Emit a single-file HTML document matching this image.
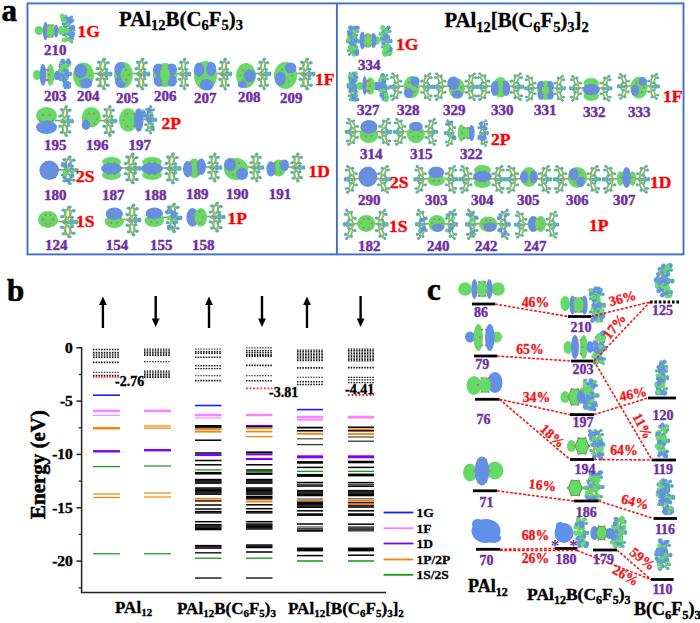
<!DOCTYPE html>
<html><head><meta charset="utf-8"><style>
html,body{margin:0;padding:0;background:#fff;overflow:hidden;}
svg{display:block;}
</style></head><body>
<svg width="700" height="623" viewBox="0 0 700 623">
<defs><g id="L"><path d="M9.3,12.2 L6.4,13.8 L5.7,10.6 L7.9,5.8 L10.8,4.2 L11.5,7.4Z M4.5,17.5 L6.4,13.8 M9.3,12.2 L10.1,13.2 M5.7,10.6 L2.8,11.1 M7.9,5.8 L7.1,4.8 M10.8,4.2 L12.9,2.7 M11.5,7.4 L14.4,6.9 M13.7,18.1 L11.8,18.8 L9.9,18.2 L9.9,16.9 L11.8,16.2 L13.7,16.8Z M4.5,17.5 L9.9,16.9 M13.7,18.1 L15.6,18.3 M11.8,18.8 L11.8,19.2 M9.9,18.2 L8,18.3 M11.8,16.2 L11.8,15.8 M13.7,16.8 L15.6,16.7 M11.5,27.6 L10.8,30.8 L7.9,29.2 L5.7,24.4 L6.4,21.2 L9.3,22.8Z M4.5,17.5 L6.4,21.2 M11.5,27.6 L14.4,28.1 M10.8,30.8 L12.9,32.3 M7.9,29.2 L7.1,30.2 M5.7,24.4 L2.8,23.9 M9.3,22.8 L10.1,21.8" fill="none" stroke="#58c858" stroke-width="2.0"/><circle cx="9.3" cy="12.2" r="1.35" fill="#c0ac6c"/><circle cx="6.4" cy="13.8" r="1.35" fill="#c0ac6c"/><circle cx="5.7" cy="10.6" r="1.35" fill="#c0ac6c"/><circle cx="7.9" cy="5.8" r="1.35" fill="#c0ac6c"/><circle cx="10.8" cy="4.2" r="1.35" fill="#c0ac6c"/><circle cx="11.5" cy="7.4" r="1.35" fill="#c0ac6c"/><circle cx="13.7" cy="18.1" r="1.35" fill="#c0ac6c"/><circle cx="11.8" cy="18.8" r="1.35" fill="#c0ac6c"/><circle cx="9.9" cy="18.2" r="1.35" fill="#c0ac6c"/><circle cx="9.9" cy="16.9" r="1.35" fill="#c0ac6c"/><circle cx="11.8" cy="16.2" r="1.35" fill="#c0ac6c"/><circle cx="13.7" cy="16.8" r="1.35" fill="#c0ac6c"/><circle cx="11.5" cy="27.6" r="1.35" fill="#c0ac6c"/><circle cx="10.8" cy="30.8" r="1.35" fill="#c0ac6c"/><circle cx="7.9" cy="29.2" r="1.35" fill="#c0ac6c"/><circle cx="5.7" cy="24.4" r="1.35" fill="#c0ac6c"/><circle cx="6.4" cy="21.2" r="1.35" fill="#c0ac6c"/><circle cx="9.3" cy="22.8" r="1.35" fill="#c0ac6c"/><circle cx="10.1" cy="13.2" r="1.75" fill="#56b0b8"/><circle cx="2.8" cy="11.1" r="1.75" fill="#56b0b8"/><circle cx="7.1" cy="4.8" r="1.75" fill="#56b0b8"/><circle cx="12.9" cy="2.7" r="1.75" fill="#56b0b8"/><circle cx="14.4" cy="6.9" r="1.75" fill="#56b0b8"/><circle cx="15.6" cy="18.3" r="1.75" fill="#56b0b8"/><circle cx="11.8" cy="19.2" r="1.75" fill="#56b0b8"/><circle cx="8" cy="18.3" r="1.75" fill="#56b0b8"/><circle cx="11.8" cy="15.8" r="1.75" fill="#56b0b8"/><circle cx="15.6" cy="16.7" r="1.75" fill="#56b0b8"/><circle cx="14.4" cy="28.1" r="1.75" fill="#56b0b8"/><circle cx="12.9" cy="32.3" r="1.75" fill="#56b0b8"/><circle cx="7.1" cy="30.2" r="1.75" fill="#56b0b8"/><circle cx="2.8" cy="23.9" r="1.75" fill="#56b0b8"/><circle cx="10.1" cy="21.8" r="1.75" fill="#56b0b8"/><circle cx="4.5" cy="17.5" r="1.3" fill="#d08a8a"/></g><g id="L2"><path d="M10.3,11.9 L8,14.3 L6.3,11.4 L6.9,6.1 L9.2,3.7 L10.9,6.6Z M4.5,17.5 L8,14.3 M10.3,11.9 L11.9,12.7 M6.3,11.4 L4,12.1 M6.9,6.1 L5.3,5.3 M9.2,3.7 L9.9,2.2 M10.9,6.6 L13.2,5.9 M13.7,18.1 L11.8,18.8 L9.9,18.2 L9.9,16.9 L11.8,16.2 L13.7,16.8Z M4.5,17.5 L9.9,16.9 M13.7,18.1 L15.6,18.3 M11.8,18.8 L11.8,19.2 M9.9,18.2 L8,18.3 M11.8,16.2 L11.8,15.8 M13.7,16.8 L15.6,16.7 M10.9,28.4 L9.2,31.3 L6.9,28.9 L6.3,23.6 L8,20.7 L10.3,23.1Z M4.5,17.5 L8,20.7 M10.9,28.4 L13.2,29.1 M9.2,31.3 L9.9,32.8 M6.9,28.9 L5.3,29.7 M6.3,23.6 L4,22.9 M10.3,23.1 L11.9,22.3" fill="none" stroke="#58c858" stroke-width="2.0"/><circle cx="10.3" cy="11.9" r="1.35" fill="#c0ac6c"/><circle cx="8" cy="14.3" r="1.35" fill="#c0ac6c"/><circle cx="6.3" cy="11.4" r="1.35" fill="#c0ac6c"/><circle cx="6.9" cy="6.1" r="1.35" fill="#c0ac6c"/><circle cx="9.2" cy="3.7" r="1.35" fill="#c0ac6c"/><circle cx="10.9" cy="6.6" r="1.35" fill="#c0ac6c"/><circle cx="13.7" cy="18.1" r="1.35" fill="#c0ac6c"/><circle cx="11.8" cy="18.8" r="1.35" fill="#c0ac6c"/><circle cx="9.9" cy="18.2" r="1.35" fill="#c0ac6c"/><circle cx="9.9" cy="16.9" r="1.35" fill="#c0ac6c"/><circle cx="11.8" cy="16.2" r="1.35" fill="#c0ac6c"/><circle cx="13.7" cy="16.8" r="1.35" fill="#c0ac6c"/><circle cx="10.9" cy="28.4" r="1.35" fill="#c0ac6c"/><circle cx="9.2" cy="31.3" r="1.35" fill="#c0ac6c"/><circle cx="6.9" cy="28.9" r="1.35" fill="#c0ac6c"/><circle cx="6.3" cy="23.6" r="1.35" fill="#c0ac6c"/><circle cx="8" cy="20.7" r="1.35" fill="#c0ac6c"/><circle cx="10.3" cy="23.1" r="1.35" fill="#c0ac6c"/><circle cx="11.9" cy="12.7" r="1.75" fill="#56b0b8"/><circle cx="4" cy="12.1" r="1.75" fill="#56b0b8"/><circle cx="5.3" cy="5.3" r="1.75" fill="#56b0b8"/><circle cx="9.9" cy="2.2" r="1.75" fill="#56b0b8"/><circle cx="13.2" cy="5.9" r="1.75" fill="#56b0b8"/><circle cx="15.6" cy="18.3" r="1.75" fill="#56b0b8"/><circle cx="11.8" cy="19.2" r="1.75" fill="#56b0b8"/><circle cx="8" cy="18.3" r="1.75" fill="#56b0b8"/><circle cx="11.8" cy="15.8" r="1.75" fill="#56b0b8"/><circle cx="15.6" cy="16.7" r="1.75" fill="#56b0b8"/><circle cx="13.2" cy="29.1" r="1.75" fill="#56b0b8"/><circle cx="9.9" cy="32.8" r="1.75" fill="#56b0b8"/><circle cx="5.3" cy="29.7" r="1.75" fill="#56b0b8"/><circle cx="4" cy="22.9" r="1.75" fill="#56b0b8"/><circle cx="11.9" cy="22.3" r="1.75" fill="#56b0b8"/><circle cx="4.5" cy="17.5" r="1.3" fill="#d08a8a"/></g></defs>
<rect width="700" height="623" fill="#fff"/>
<rect x="27.5" y="3.4" width="656" height="251" fill="none" stroke="#3f6fc6" stroke-width="1.9"/>
<line x1="336.9" y1="3.4" x2="336.9" y2="254.4" stroke="#3f6fc6" stroke-width="1.9"/>
<text x="1.5" y="20.5" font-size="31" fill="#000" text-anchor="start" font-family="Liberation Serif" font-weight="bold" stroke="#000" stroke-width="0.6" >a</text>
<text x="119" y="25.7" font-size="20.9" fill="#000" text-anchor="start" font-family="Liberation Serif" font-weight="bold" stroke="#000" stroke-width="0.3" >PAl<tspan font-size="14.5" dy="4.5">12</tspan><tspan dy="-4.5">B(C</tspan><tspan font-size="14.5" dy="4.5">6</tspan><tspan dy="-4.5">F</tspan><tspan font-size="14.5" dy="4.5">5</tspan><tspan dy="-4.5">)</tspan><tspan font-size="14.5" dy="4.5">3</tspan></text>
<text x="444.5" y="27" font-size="20.7" fill="#000" text-anchor="start" font-family="Liberation Serif" font-weight="bold" stroke="#000" stroke-width="0.3" >PAl<tspan font-size="14.5" dy="4.5">12</tspan><tspan dy="-4.5">[B(C</tspan><tspan font-size="14.5" dy="4.5">6</tspan><tspan dy="-4.5">F</tspan><tspan font-size="14.5" dy="4.5">5</tspan><tspan dy="-4.5">)</tspan><tspan font-size="14.5" dy="4.5">3</tspan><tspan dy="-4.5">]</tspan><tspan font-size="14.5" dy="4.5">2</tspan></text>
<use href="#L" transform="translate(61,14.6) scale(0.831,0.850)"/>
<g opacity="0.95"><circle cx="65.6" cy="16.5" r="1.8" fill="#6090e8"/><circle cx="66.1" cy="29.6" r="1.9" fill="#66da66"/><circle cx="68.1" cy="21" r="2.2" fill="#6090e8"/><circle cx="70.1" cy="33.2" r="2.4" fill="#66da66"/><circle cx="67.9" cy="20.9" r="2" fill="#6090e8"/><circle cx="71" cy="34.7" r="1.8" fill="#6090e8"/><circle cx="70.3" cy="20.9" r="2.1" fill="#6090e8"/><circle cx="64" cy="40" r="2.4" fill="#66da66"/><circle cx="70.2" cy="20.8" r="1.9" fill="#6090e8"/><circle cx="69.3" cy="22.4" r="2.1" fill="#6090e8"/><circle cx="70.8" cy="32.1" r="2.2" fill="#66da66"/><circle cx="65.4" cy="25.4" r="2.5" fill="#6090e8"/><circle cx="72" cy="29.5" r="1.9" fill="#66da66"/><circle cx="67" cy="30.8" r="2.4" fill="#6090e8"/><circle cx="67.5" cy="24.5" r="2.1" fill="#66da66"/><circle cx="64.4" cy="16.9" r="1.7" fill="#66da66"/><circle cx="65.6" cy="30.3" r="2.5" fill="#66da66"/><circle cx="67.1" cy="18.6" r="2.2" fill="#6090e8"/><circle cx="66" cy="30" r="2" fill="#66da66"/><circle cx="71.3" cy="39" r="2.4" fill="#66da66"/><circle cx="62.7" cy="17.7" r="2.3" fill="#66da66"/><circle cx="62.2" cy="15.9" r="2.5" fill="#66da66"/><circle cx="67.2" cy="38.4" r="2" fill="#66da66"/><circle cx="62.8" cy="19.6" r="2.3" fill="#66da66"/><circle cx="71.2" cy="21.4" r="2" fill="#6090e8"/><circle cx="69.8" cy="20.8" r="2.5" fill="#6090e8"/><circle cx="68.9" cy="34.4" r="1.8" fill="#6090e8"/><circle cx="64.8" cy="19.2" r="2.1" fill="#6090e8"/><circle cx="69.8" cy="39.1" r="2.3" fill="#66da66"/><circle cx="71.2" cy="37" r="2.2" fill="#6090e8"/><circle cx="70.4" cy="18.2" r="2" fill="#6090e8"/><circle cx="63.9" cy="23.9" r="1.8" fill="#6090e8"/><circle cx="70.4" cy="29.5" r="2.4" fill="#6090e8"/><circle cx="65.6" cy="32.7" r="2.2" fill="#6090e8"/><circle cx="66.1" cy="21.7" r="1.7" fill="#6090e8"/><circle cx="66.3" cy="31.3" r="2.2" fill="#66da66"/><circle cx="72.9" cy="26.9" r="2.2" fill="#6090e8"/><circle cx="64.3" cy="20.8" r="1.9" fill="#66da66"/><circle cx="72.6" cy="33.9" r="2.5" fill="#6090e8"/><circle cx="68" cy="30.2" r="1.8" fill="#66da66"/><circle cx="72.3" cy="35.4" r="2.4" fill="#6090e8"/><circle cx="64.5" cy="20.9" r="2.3" fill="#66da66"/></g>
<ellipse cx="39" cy="30.5" rx="4.3" ry="4.5" fill="#66da66"/>
<ellipse cx="61" cy="30.5" rx="3" ry="4.5" fill="#66da66"/>
<ellipse cx="45.5" cy="31" rx="2.6" ry="9.3" fill="#6090e8"/>
<ellipse cx="56" cy="31" rx="2.4" ry="6.5" fill="#6090e8"/>
<ellipse cx="50.5" cy="31" rx="4" ry="7" fill="#66da66"/>
<path d="M55,31h0 M52.8,36.6h0 M48.2,36.6h0 M46,31h0 M48.2,25.4h0 M52.8,25.4h0" stroke="#c07a6a" stroke-width="2.3" stroke-linecap="round"/>
<text x="77.5" y="37" font-size="17.5" fill="#ff0000" text-anchor="start" font-family="Liberation Serif" font-weight="bold" stroke="#ff0000" stroke-width="0.4" >1G</text>
<text x="44" y="55.3" font-size="15" fill="#6f2f9f" text-anchor="start" font-family="Liberation Serif" font-weight="bold" stroke="#6f2f9f" stroke-width="0.45" >210</text>
<use href="#L" transform="translate(58,57.6) scale(0.812,0.924)"/>
<g opacity="0.95"><circle cx="65.9" cy="86.9" r="2.4" fill="#6090e8"/><circle cx="63.3" cy="77.6" r="1.7" fill="#66da66"/><circle cx="62.4" cy="75.3" r="2.2" fill="#6090e8"/><circle cx="64" cy="77.5" r="1.8" fill="#66da66"/><circle cx="64" cy="66.3" r="2.2" fill="#66da66"/><circle cx="65" cy="65.3" r="2.3" fill="#66da66"/><circle cx="63.3" cy="74.7" r="2.1" fill="#66da66"/><circle cx="66.6" cy="72.3" r="2" fill="#6090e8"/><circle cx="63.2" cy="79.7" r="1.9" fill="#6090e8"/><circle cx="60" cy="70.4" r="1.9" fill="#6090e8"/><circle cx="66.1" cy="78.2" r="2.4" fill="#6090e8"/><circle cx="67.6" cy="82.9" r="2" fill="#6090e8"/><circle cx="67.9" cy="62.3" r="1.9" fill="#6090e8"/><circle cx="63.1" cy="64.8" r="2.4" fill="#66da66"/><circle cx="66.4" cy="70.4" r="2.4" fill="#6090e8"/><circle cx="60.7" cy="76.5" r="2.4" fill="#66da66"/><circle cx="68.2" cy="65.2" r="2.2" fill="#66da66"/><circle cx="68.2" cy="62.5" r="2" fill="#6090e8"/><circle cx="68.6" cy="83.3" r="1.9" fill="#6090e8"/><circle cx="61.4" cy="63.5" r="2.4" fill="#66da66"/><circle cx="61.9" cy="69.7" r="2.5" fill="#6090e8"/><circle cx="59.7" cy="77.1" r="2.1" fill="#6090e8"/><circle cx="60.5" cy="76.5" r="2.1" fill="#66da66"/><circle cx="66.1" cy="69.5" r="1.7" fill="#6090e8"/><circle cx="66.9" cy="77" r="2.2" fill="#66da66"/><circle cx="60.8" cy="67" r="2.1" fill="#66da66"/><circle cx="60.7" cy="66" r="2.2" fill="#6090e8"/><circle cx="64.4" cy="75.9" r="2.3" fill="#6090e8"/><circle cx="68.8" cy="86.2" r="1.7" fill="#6090e8"/><circle cx="67.6" cy="84.2" r="2.2" fill="#6090e8"/><circle cx="63" cy="61.8" r="2.3" fill="#6090e8"/><circle cx="62.1" cy="75.7" r="1.9" fill="#6090e8"/><circle cx="69.4" cy="62.1" r="1.9" fill="#6090e8"/><circle cx="64.8" cy="81.6" r="2" fill="#6090e8"/><circle cx="62.6" cy="61.1" r="2.3" fill="#6090e8"/><circle cx="68.7" cy="86.5" r="2.3" fill="#6090e8"/><circle cx="65.2" cy="83.2" r="2" fill="#6090e8"/><circle cx="66" cy="70.5" r="2.4" fill="#6090e8"/><circle cx="67" cy="75.2" r="2.4" fill="#6090e8"/><circle cx="66.9" cy="68.1" r="1.7" fill="#66da66"/><circle cx="68.7" cy="84.9" r="1.8" fill="#6090e8"/><circle cx="62" cy="66.9" r="1.9" fill="#66da66"/><circle cx="63" cy="60.9" r="1.8" fill="#6090e8"/><circle cx="68.2" cy="60.1" r="1.8" fill="#6090e8"/><circle cx="60.7" cy="70.1" r="2.4" fill="#66da66"/></g>
<ellipse cx="37" cy="75" rx="4" ry="5" fill="#66da66"/>
<ellipse cx="57.5" cy="75.5" rx="3.6" ry="4.5" fill="#6090e8"/>
<ellipse cx="43" cy="75" rx="3.3" ry="11" fill="#6090e8"/>
<ellipse cx="50.5" cy="75" rx="3.8" ry="11" fill="#66da66"/>
<path d="M49,75h0 M48,80.2h0 M46,80.2h0 M45,75h0 M46,69.8h0 M48,69.8h0" stroke="#c07a6a" stroke-width="2.3" stroke-linecap="round"/>
<line x1="92" y1="73.5" x2="100" y2="73.5" stroke="#50c850" stroke-width="1.6"/>
<use href="#L2" transform="translate(93,57) scale(1.125,0.971)"/>
<ellipse cx="83.5" cy="75.5" rx="10.5" ry="13" fill="#66da66"/>
<ellipse cx="80.6" cy="71.1" rx="6.3" ry="7.3" fill="#6090e8"/>
<ellipse cx="86.2" cy="83.3" rx="5.9" ry="5.2" fill="#6090e8"/>
<path d="M89.8,75.5h0 M86.7,81h0 M80.3,81h0 M77.2,75.5h0 M80.3,70h0 M86.6,70h0" stroke="#c07a6a" stroke-width="2.2" stroke-linecap="round"/>
<line x1="131" y1="73.5" x2="138.6" y2="73.5" stroke="#50c850" stroke-width="1.6"/>
<use href="#L2" transform="translate(132,57) scale(1.062,0.971)"/>
<ellipse cx="123.5" cy="75" rx="9.5" ry="13" fill="#66da66"/>
<ellipse cx="120.1" cy="69.3" rx="5.7" ry="7.3" fill="#6090e8"/>
<ellipse cx="120.7" cy="81.5" rx="5.7" ry="6.5" fill="#6090e8"/>
<ellipse cx="125.4" cy="75" rx="4.8" ry="7.8" fill="#66da66"/>
<path d="M129.2,75h0 M126.3,79.9h0 M120.7,79.9h0 M117.8,75h0 M120.6,70.1h0 M126.3,70.1h0" stroke="#c07a6a" stroke-width="2.2" stroke-linecap="round"/>
<line x1="175" y1="73.5" x2="181.6" y2="73.5" stroke="#50c850" stroke-width="1.6"/>
<use href="#L2" transform="translate(176,57) scale(0.875,0.971)"/>
<ellipse cx="165" cy="75" rx="12" ry="12" fill="#66da66"/>
<ellipse cx="158.3" cy="69.7" rx="5.3" ry="6.2" fill="#6090e8"/>
<ellipse cx="171.7" cy="69.7" rx="5.3" ry="6.2" fill="#6090e8"/>
<ellipse cx="159" cy="81" rx="5.3" ry="5.8" fill="#6090e8"/>
<ellipse cx="171.7" cy="81" rx="5.3" ry="5.8" fill="#6090e8"/>
<ellipse cx="165" cy="75" rx="4.8" ry="10.8" fill="#66da66"/>
<path d="M172.2,75h0 M168.6,81.2h0 M161.4,81.2h0 M157.8,75h0 M161.4,68.8h0 M168.6,68.8h0" stroke="#c07a6a" stroke-width="2.2" stroke-linecap="round"/>
<line x1="215" y1="73.5" x2="221.9" y2="73.5" stroke="#50c850" stroke-width="1.6"/>
<use href="#L2" transform="translate(216,57) scale(0.938,0.971)"/>
<ellipse cx="205.5" cy="75.5" rx="11.5" ry="14.5" fill="#66da66"/>
<ellipse cx="199.1" cy="69.7" rx="5.1" ry="7.2" fill="#6090e8"/>
<ellipse cx="211.2" cy="69.1" rx="5.1" ry="7.2" fill="#6090e8"/>
<ellipse cx="206.7" cy="84.8" rx="6.9" ry="5.8" fill="#6090e8"/>
<path d="M212.4,75.5h0 M208.9,81.5h0 M202.1,81.5h0 M198.6,75.5h0 M202.1,69.5h0 M208.9,69.5h0" stroke="#c07a6a" stroke-width="2.2" stroke-linecap="round"/>
<line x1="254" y1="73.5" x2="260.9" y2="73.5" stroke="#50c850" stroke-width="1.6"/>
<use href="#L2" transform="translate(255,57) scale(0.938,0.971)"/>
<ellipse cx="246" cy="75.5" rx="10" ry="12.5" fill="#66da66"/>
<ellipse cx="249.6" cy="76" rx="6" ry="6.5" fill="#6090e8"/>
<ellipse cx="242.4" cy="84.5" rx="4.4" ry="3.5" fill="#6090e8"/>
<path d="M252,75.5h0 M249,80.7h0 M243,80.7h0 M240,75.5h0 M243,70.3h0 M249,70.3h0" stroke="#c07a6a" stroke-width="2.2" stroke-linecap="round"/>
<line x1="295" y1="73.5" x2="302.9" y2="73.5" stroke="#50c850" stroke-width="1.6"/>
<use href="#L2" transform="translate(296,57) scale(1.125,0.971)"/>
<ellipse cx="285.5" cy="75.5" rx="11.5" ry="13.5" fill="#66da66"/>
<ellipse cx="290.6" cy="67.9" rx="5.8" ry="5.4" fill="#6090e8"/>
<ellipse cx="280.4" cy="78.7" rx="5.5" ry="7" fill="#6090e8"/>
<path d="M292.4,75.5h0 M288.9,81.5h0 M282.1,81.5h0 M278.6,75.5h0 M282.1,69.5h0 M288.9,69.5h0" stroke="#c07a6a" stroke-width="2.2" stroke-linecap="round"/>
<text x="315" y="84.5" font-size="17.5" fill="#ff0000" text-anchor="start" font-family="Liberation Serif" font-weight="bold" stroke="#ff0000" stroke-width="0.4" >1F</text>
<text x="44" y="100.7" font-size="15" fill="#6f2f9f" text-anchor="start" font-family="Liberation Serif" font-weight="bold" stroke="#6f2f9f" stroke-width="0.45" >203</text>
<text x="77" y="100.7" font-size="15" fill="#6f2f9f" text-anchor="start" font-family="Liberation Serif" font-weight="bold" stroke="#6f2f9f" stroke-width="0.45" >204</text>
<text x="116" y="103" font-size="15" fill="#6f2f9f" text-anchor="start" font-family="Liberation Serif" font-weight="bold" stroke="#6f2f9f" stroke-width="0.45" >205</text>
<text x="154" y="101" font-size="15" fill="#6f2f9f" text-anchor="start" font-family="Liberation Serif" font-weight="bold" stroke="#6f2f9f" stroke-width="0.45" >206</text>
<text x="194" y="103" font-size="15" fill="#6f2f9f" text-anchor="start" font-family="Liberation Serif" font-weight="bold" stroke="#6f2f9f" stroke-width="0.45" >207</text>
<text x="238" y="102" font-size="15" fill="#6f2f9f" text-anchor="start" font-family="Liberation Serif" font-weight="bold" stroke="#6f2f9f" stroke-width="0.45" >208</text>
<text x="280" y="103" font-size="15" fill="#6f2f9f" text-anchor="start" font-family="Liberation Serif" font-weight="bold" stroke="#6f2f9f" stroke-width="0.45" >209</text>
<line x1="55" y1="120.6" x2="62.5" y2="120.6" stroke="#50c850" stroke-width="1.6"/>
<use href="#L2" transform="translate(56,104.6) scale(1.037,0.941)"/>
<ellipse cx="46.5" cy="115.6" rx="10.5" ry="8.6" fill="#66da66"/>
<ellipse cx="46.5" cy="127.2" rx="10.5" ry="6.8" fill="#6090e8"/>
<path d="M52.8,120.5h0 M49.6,126h0 M43.4,126h0 M40.2,120.5h0 M43.3,115h0 M49.6,115h0" stroke="#c07a6a" stroke-width="2.2" stroke-linecap="round"/>
<line x1="99" y1="120.6" x2="106.2" y2="120.6" stroke="#50c850" stroke-width="1.6"/>
<use href="#L2" transform="translate(100,104.6) scale(1.000,0.941)"/>
<ellipse cx="91.3" cy="117.3" rx="9.6" ry="10.3" fill="#66da66"/>
<ellipse cx="85.9" cy="124.9" rx="4.2" ry="5.1" fill="#6090e8"/>
<path d="M97.1,118.5h0 M94.2,123.5h0 M88.5,123.5h0 M85.6,118.5h0 M88.5,113.5h0 M94.2,113.5h0" stroke="#c07a6a" stroke-width="2.2" stroke-linecap="round"/>
<line x1="141" y1="119.3" x2="147.6" y2="119.3" stroke="#50c850" stroke-width="1.6"/>
<use href="#L2" transform="translate(142,104.6) scale(0.875,0.865)"/>
<g opacity="0.95"><circle cx="151.1" cy="114.7" r="1.6" fill="#6090e8"/><circle cx="151.5" cy="113" r="1.7" fill="#66da66"/><circle cx="148.7" cy="109.2" r="1.7" fill="#6090e8"/><circle cx="146.8" cy="115.7" r="2" fill="#6090e8"/><circle cx="142.9" cy="111.4" r="2.1" fill="#66da66"/><circle cx="143.9" cy="112.7" r="2" fill="#6090e8"/><circle cx="149.7" cy="110" r="2" fill="#6090e8"/><circle cx="148.6" cy="112" r="2" fill="#6090e8"/><circle cx="144" cy="115.9" r="2.1" fill="#6090e8"/><circle cx="149.8" cy="121.5" r="1.9" fill="#6090e8"/><circle cx="149.2" cy="120" r="1.8" fill="#6090e8"/><circle cx="147.9" cy="118.3" r="1.8" fill="#6090e8"/><circle cx="147.8" cy="118.1" r="1.9" fill="#6090e8"/><circle cx="151.3" cy="117.7" r="1.8" fill="#6090e8"/><circle cx="149.4" cy="127.6" r="1.7" fill="#66da66"/><circle cx="152.1" cy="126" r="1.8" fill="#66da66"/><circle cx="152.7" cy="127.4" r="2" fill="#6090e8"/></g>
<ellipse cx="128.1" cy="120" rx="9.1" ry="11.8" fill="#66da66"/>
<ellipse cx="138.7" cy="120" rx="4.8" ry="11.8" fill="#6090e8"/>
<path d="M138.2,120h0 M134.6,126.2h0 M127.4,126.2h0 M123.8,120h0 M127.4,113.8h0 M134.6,113.8h0" stroke="#c07a6a" stroke-width="2.2" stroke-linecap="round"/>
<text x="161.5" y="128.6" font-size="17.5" fill="#ff0000" text-anchor="start" font-family="Liberation Serif" font-weight="bold" stroke="#ff0000" stroke-width="0.4" >2P</text>
<text x="44" y="150" font-size="15" fill="#6f2f9f" text-anchor="start" font-family="Liberation Serif" font-weight="bold" stroke="#6f2f9f" stroke-width="0.45" >195</text>
<text x="86" y="150" font-size="15" fill="#6f2f9f" text-anchor="start" font-family="Liberation Serif" font-weight="bold" stroke="#6f2f9f" stroke-width="0.45" >196</text>
<text x="128.6" y="150" font-size="15" fill="#6f2f9f" text-anchor="start" font-family="Liberation Serif" font-weight="bold" stroke="#6f2f9f" stroke-width="0.45" >197</text>
<line x1="57" y1="169.8" x2="65.3" y2="169.8" stroke="#50c850" stroke-width="1.6"/>
<use href="#L2" transform="translate(58,155) scale(1.188,0.871)"/>
<g opacity="0.95"><circle cx="63.8" cy="164.1" r="1.8" fill="#6090e8"/><circle cx="64.9" cy="165.7" r="2.3" fill="#6090e8"/><circle cx="62.6" cy="163.6" r="1.7" fill="#6090e8"/><circle cx="65.3" cy="165.7" r="2" fill="#6090e8"/><circle cx="69.6" cy="164.4" r="1.9" fill="#6090e8"/><circle cx="71" cy="170" r="1.6" fill="#66da66"/><circle cx="64.8" cy="173" r="2.3" fill="#66da66"/><circle cx="65.4" cy="173.4" r="1.7" fill="#66da66"/><circle cx="71.3" cy="168.9" r="1.9" fill="#6090e8"/><circle cx="65.5" cy="173.2" r="1.6" fill="#66da66"/><circle cx="71.8" cy="171.2" r="1.8" fill="#66da66"/><circle cx="67.6" cy="180.1" r="1.7" fill="#6090e8"/><circle cx="72.4" cy="176" r="2" fill="#6090e8"/><circle cx="64.9" cy="175.1" r="1.8" fill="#66da66"/><circle cx="68.8" cy="179.9" r="2" fill="#6090e8"/><circle cx="64.1" cy="177.6" r="1.8" fill="#6090e8"/></g>
<ellipse cx="49.2" cy="170.3" rx="9.8" ry="9.7" fill="#6090e8"/>
<path d="M55,170.3h0 M52.1,175.3h0 M46.3,175.3h0 M43.4,170.3h0 M46.3,165.3h0 M52.1,165.3h0" stroke="#c07a6a" stroke-width="2.2" stroke-linecap="round"/>
<text x="76" y="182.2" font-size="17.5" fill="#ff0000" text-anchor="start" font-family="Liberation Serif" font-weight="bold" stroke="#ff0000" stroke-width="0.4" >2S</text>
<line x1="120" y1="168" x2="128.3" y2="168" stroke="#50c850" stroke-width="1.6"/>
<use href="#L2" transform="translate(121,152) scale(1.188,0.941)"/>
<ellipse cx="111.5" cy="162.1" rx="9.5" ry="5.1" fill="#66da66"/>
<ellipse cx="111.5" cy="174.9" rx="9.5" ry="5.1" fill="#66da66"/>
<ellipse cx="111.5" cy="168.5" rx="10.5" ry="5.5" fill="#6090e8"/>
<path d="M117.8,168.5h0 M114.7,174h0 M108.3,174h0 M105.2,168.5h0 M108.3,163h0 M114.6,163h0" stroke="#c07a6a" stroke-width="2.2" stroke-linecap="round"/>
<line x1="161" y1="168" x2="168.9" y2="168" stroke="#50c850" stroke-width="1.6"/>
<use href="#L2" transform="translate(162,152) scale(1.125,0.941)"/>
<ellipse cx="152" cy="162.1" rx="9.9" ry="5.1" fill="#66da66"/>
<ellipse cx="152" cy="174.9" rx="9.9" ry="5.1" fill="#66da66"/>
<ellipse cx="152" cy="168.5" rx="11" ry="5.5" fill="#6090e8"/>
<path d="M158.6,168.5h0 M155.3,174.2h0 M148.7,174.2h0 M145.4,168.5h0 M148.7,162.8h0 M155.3,162.8h0" stroke="#c07a6a" stroke-width="2.2" stroke-linecap="round"/>
<line x1="204" y1="167" x2="211.2" y2="167" stroke="#50c850" stroke-width="1.6"/>
<use href="#L2" transform="translate(205,152) scale(1.000,0.882)"/>
<ellipse cx="194.5" cy="168.3" rx="7.4" ry="9.9" fill="#66da66"/>
<ellipse cx="187.6" cy="169.3" rx="4.6" ry="8.2" fill="#6090e8"/>
<ellipse cx="201.4" cy="166.7" rx="4.6" ry="8.2" fill="#6090e8"/>
<path d="M200.7,168.3h0 M197.6,173.7h0 M191.4,173.7h0 M188.3,168.3h0 M191.4,162.9h0 M197.6,162.9h0" stroke="#c07a6a" stroke-width="2.2" stroke-linecap="round"/>
<line x1="246" y1="167" x2="253.2" y2="167" stroke="#50c850" stroke-width="1.6"/>
<use href="#L2" transform="translate(247,152) scale(1.000,0.882)"/>
<ellipse cx="236" cy="169" rx="12" ry="11" fill="#66da66"/>
<ellipse cx="230" cy="164.6" rx="6" ry="6.6" fill="#6090e8"/>
<ellipse cx="242" cy="173.8" rx="6" ry="6.2" fill="#6090e8"/>
<path d="M242.6,169h0 M239.3,174.7h0 M232.7,174.7h0 M229.4,169h0 M232.7,163.3h0 M239.3,163.3h0" stroke="#c07a6a" stroke-width="2.2" stroke-linecap="round"/>
<line x1="287" y1="167" x2="294.2" y2="167" stroke="#50c850" stroke-width="1.6"/>
<use href="#L2" transform="translate(288,152) scale(1.000,0.882)"/>
<ellipse cx="278.8" cy="168" rx="7.2" ry="8.6" fill="#66da66"/>
<ellipse cx="270.9" cy="168.9" rx="4.5" ry="7.6" fill="#6090e8"/>
<ellipse cx="284.5" cy="165.3" rx="4.5" ry="5.8" fill="#6090e8"/>
<path d="M283.1,168h0 M280.4,172.7h0 M275,172.7h0 M272.3,168h0 M275,163.3h0 M280.4,163.3h0" stroke="#c07a6a" stroke-width="2.2" stroke-linecap="round"/>
<text x="308.5" y="177" font-size="17.5" fill="#ff0000" text-anchor="start" font-family="Liberation Serif" font-weight="bold" stroke="#ff0000" stroke-width="0.4" >1D</text>
<text x="44" y="200.3" font-size="15" fill="#6f2f9f" text-anchor="start" font-family="Liberation Serif" font-weight="bold" stroke="#6f2f9f" stroke-width="0.45" >180</text>
<text x="102" y="200.3" font-size="15" fill="#6f2f9f" text-anchor="start" font-family="Liberation Serif" font-weight="bold" stroke="#6f2f9f" stroke-width="0.45" >187</text>
<text x="144" y="200.3" font-size="15" fill="#6f2f9f" text-anchor="start" font-family="Liberation Serif" font-weight="bold" stroke="#6f2f9f" stroke-width="0.45" >188</text>
<text x="186" y="199" font-size="15" fill="#6f2f9f" text-anchor="start" font-family="Liberation Serif" font-weight="bold" stroke="#6f2f9f" stroke-width="0.45" >189</text>
<text x="226" y="199" font-size="15" fill="#6f2f9f" text-anchor="start" font-family="Liberation Serif" font-weight="bold" stroke="#6f2f9f" stroke-width="0.45" >190</text>
<text x="268.7" y="199" font-size="15" fill="#6f2f9f" text-anchor="start" font-family="Liberation Serif" font-weight="bold" stroke="#6f2f9f" stroke-width="0.45" >191</text>
<line x1="56" y1="221.5" x2="64.7" y2="221.5" stroke="#50c850" stroke-width="1.6"/>
<use href="#L2" transform="translate(57,205) scale(1.250,0.971)"/>
<ellipse cx="48" cy="219.5" rx="10" ry="8.5" fill="#66da66"/>
<path d="M53.1,219.5h0 M50.5,223.9h0 M45.5,223.9h0 M42.9,219.5h0 M45.4,215.1h0 M50.5,215.1h0" stroke="#c07a6a" stroke-width="2.2" stroke-linecap="round"/>
<text x="76" y="227.2" font-size="17.5" fill="#ff0000" text-anchor="start" font-family="Liberation Serif" font-weight="bold" stroke="#ff0000" stroke-width="0.4" >1S</text>
<line x1="122" y1="219.5" x2="129.6" y2="219.5" stroke="#50c850" stroke-width="1.6"/>
<use href="#L2" transform="translate(123,203) scale(1.062,0.971)"/>
<ellipse cx="114.3" cy="221.5" rx="9.7" ry="6.5" fill="#66da66"/>
<ellipse cx="114.3" cy="213.7" rx="8.7" ry="6.1" fill="#6090e8"/>
<path d="M120.1,217.8h0 M117.2,222.8h0 M111.4,222.8h0 M108.5,217.8h0 M111.4,212.8h0 M117.2,212.8h0" stroke="#c07a6a" stroke-width="2.2" stroke-linecap="round"/>
<line x1="162" y1="217.3" x2="169.9" y2="217.3" stroke="#50c850" stroke-width="1.6"/>
<use href="#L2" transform="translate(163,202) scale(1.125,0.903)"/>
<g opacity="0.95"><circle cx="170" cy="210.2" r="1.6" fill="#66da66"/><circle cx="168.8" cy="209.7" r="1.8" fill="#6090e8"/><circle cx="171.2" cy="211.6" r="2.2" fill="#6090e8"/><circle cx="174.1" cy="213.1" r="2" fill="#6090e8"/><circle cx="173.3" cy="212.9" r="2" fill="#6090e8"/><circle cx="166.4" cy="211.7" r="1.7" fill="#6090e8"/><circle cx="175.5" cy="220" r="2.2" fill="#66da66"/><circle cx="169" cy="217.9" r="2.3" fill="#66da66"/><circle cx="174" cy="222.9" r="1.8" fill="#6090e8"/><circle cx="176.2" cy="218" r="2.2" fill="#66da66"/><circle cx="174" cy="215.8" r="2.2" fill="#6090e8"/><circle cx="178" cy="218.6" r="2" fill="#6090e8"/><circle cx="173.1" cy="215.8" r="2.2" fill="#6090e8"/><circle cx="168.7" cy="226.7" r="2" fill="#6090e8"/><circle cx="169.2" cy="227.8" r="1.8" fill="#6090e8"/><circle cx="171.3" cy="228.6" r="2.2" fill="#66da66"/><circle cx="172.1" cy="227.2" r="1.8" fill="#6090e8"/></g>
<ellipse cx="154.3" cy="220.8" rx="9.7" ry="6.2" fill="#66da66"/>
<ellipse cx="154.3" cy="213.4" rx="8.7" ry="5.8" fill="#6090e8"/>
<path d="M160.1,217.3h0 M157.2,222.3h0 M151.4,222.3h0 M148.5,217.3h0 M151.4,212.3h0 M157.2,212.3h0" stroke="#c07a6a" stroke-width="2.2" stroke-linecap="round"/>
<line x1="205" y1="216.5" x2="212.9" y2="216.5" stroke="#50c850" stroke-width="1.6"/>
<use href="#L2" transform="translate(206,201) scale(1.125,0.912)"/>
<ellipse cx="192.6" cy="217.3" rx="6.2" ry="9.3" fill="#6090e8"/>
<ellipse cx="200.8" cy="217.3" rx="6.2" ry="9.3" fill="#66da66"/>
<path d="M202.9,217.3h0 M199.8,222.7h0 M193.6,222.7h0 M190.5,217.3h0 M193.6,212h0 M199.8,212h0" stroke="#c07a6a" stroke-width="2.2" stroke-linecap="round"/>
<text x="227.6" y="224.3" font-size="17.5" fill="#ff0000" text-anchor="start" font-family="Liberation Serif" font-weight="bold" stroke="#ff0000" stroke-width="0.4" >1P</text>
<text x="45" y="250.3" font-size="15" fill="#6f2f9f" text-anchor="start" font-family="Liberation Serif" font-weight="bold" stroke="#6f2f9f" stroke-width="0.45" >124</text>
<text x="105.7" y="250.3" font-size="15" fill="#6f2f9f" text-anchor="start" font-family="Liberation Serif" font-weight="bold" stroke="#6f2f9f" stroke-width="0.45" >154</text>
<text x="150" y="250.3" font-size="15" fill="#6f2f9f" text-anchor="start" font-family="Liberation Serif" font-weight="bold" stroke="#6f2f9f" stroke-width="0.45" >155</text>
<text x="192" y="250.3" font-size="15" fill="#6f2f9f" text-anchor="start" font-family="Liberation Serif" font-weight="bold" stroke="#6f2f9f" stroke-width="0.45" >158</text>
<use href="#L" transform="translate(359,25) scale(-0.750,0.912)"/>
<use href="#L" transform="translate(347,25) scale(0.750,0.912)"/>
<g opacity="0.95"><circle cx="353.3" cy="42.9" r="1.9" fill="#66da66"/><circle cx="356.3" cy="48.8" r="2.3" fill="#66da66"/><circle cx="350.7" cy="40.8" r="2.3" fill="#6090e8"/><circle cx="351.1" cy="49.7" r="2.2" fill="#66da66"/><circle cx="357" cy="53.6" r="2.2" fill="#6090e8"/><circle cx="350.8" cy="27" r="2" fill="#66da66"/><circle cx="351.8" cy="34.1" r="1.8" fill="#66da66"/><circle cx="355.8" cy="52.1" r="2.3" fill="#6090e8"/><circle cx="355.6" cy="52.8" r="1.9" fill="#6090e8"/><circle cx="355.4" cy="38.3" r="2.1" fill="#6090e8"/><circle cx="352.3" cy="39.7" r="2.2" fill="#66da66"/><circle cx="350.4" cy="47.8" r="2" fill="#66da66"/><circle cx="349.7" cy="41.8" r="1.9" fill="#6090e8"/><circle cx="351.1" cy="43.5" r="2.1" fill="#6090e8"/><circle cx="352.9" cy="48" r="2.1" fill="#66da66"/><circle cx="349.2" cy="37.4" r="2.4" fill="#66da66"/><circle cx="354.6" cy="27.7" r="2.2" fill="#6090e8"/><circle cx="352.6" cy="35.4" r="1.9" fill="#6090e8"/><circle cx="350.8" cy="47" r="2.3" fill="#66da66"/><circle cx="348.8" cy="41.1" r="2" fill="#6090e8"/><circle cx="354" cy="54.4" r="2.3" fill="#66da66"/><circle cx="354.7" cy="36" r="1.8" fill="#6090e8"/><circle cx="356.2" cy="52" r="2.5" fill="#6090e8"/><circle cx="352.7" cy="34.8" r="1.9" fill="#6090e8"/><circle cx="353.9" cy="37.4" r="1.8" fill="#66da66"/><circle cx="357.6" cy="27.7" r="2.3" fill="#6090e8"/><circle cx="352.7" cy="34.1" r="2.3" fill="#66da66"/><circle cx="352.5" cy="30.5" r="2.3" fill="#66da66"/><circle cx="348.2" cy="39.9" r="1.9" fill="#66da66"/><circle cx="350.9" cy="28.5" r="2.3" fill="#6090e8"/><circle cx="350.2" cy="48.6" r="2.5" fill="#66da66"/><circle cx="350.8" cy="41.8" r="1.7" fill="#6090e8"/><circle cx="354.9" cy="45.9" r="1.8" fill="#6090e8"/><circle cx="348.9" cy="39.4" r="2.2" fill="#66da66"/><circle cx="355.4" cy="40.6" r="2" fill="#6090e8"/><circle cx="351.3" cy="33.2" r="2" fill="#6090e8"/><circle cx="351.9" cy="43.3" r="2.4" fill="#6090e8"/><circle cx="349.4" cy="33.7" r="2.4" fill="#6090e8"/><circle cx="353.9" cy="48.2" r="2.2" fill="#66da66"/><circle cx="351.6" cy="49.2" r="2.2" fill="#66da66"/><circle cx="351.7" cy="38" r="2" fill="#6090e8"/></g>
<use href="#L" transform="translate(380,25) scale(0.719,0.912)"/>
<g opacity="0.95"><circle cx="385.6" cy="54.4" r="2.4" fill="#6090e8"/><circle cx="380.9" cy="33.9" r="2.5" fill="#66da66"/><circle cx="382.5" cy="27.2" r="2.3" fill="#66da66"/><circle cx="388.4" cy="27.6" r="2" fill="#6090e8"/><circle cx="382.5" cy="40.9" r="2.1" fill="#66da66"/><circle cx="390.5" cy="51.9" r="2.1" fill="#66da66"/><circle cx="389.5" cy="50.9" r="2.4" fill="#66da66"/><circle cx="385.3" cy="46.6" r="2.1" fill="#66da66"/><circle cx="383" cy="29" r="2.4" fill="#66da66"/><circle cx="383.8" cy="32.4" r="2.3" fill="#6090e8"/><circle cx="389.1" cy="46" r="1.8" fill="#6090e8"/><circle cx="387.1" cy="46.6" r="1.7" fill="#6090e8"/><circle cx="384.6" cy="54.6" r="1.9" fill="#66da66"/><circle cx="383.6" cy="34.7" r="1.7" fill="#66da66"/><circle cx="383.5" cy="28.4" r="2.1" fill="#66da66"/><circle cx="389.9" cy="50.6" r="2.3" fill="#6090e8"/><circle cx="385.2" cy="53.8" r="2.2" fill="#66da66"/><circle cx="388.9" cy="46.7" r="1.9" fill="#66da66"/><circle cx="385.9" cy="45.5" r="2" fill="#66da66"/><circle cx="388.1" cy="47.1" r="2.5" fill="#66da66"/><circle cx="385" cy="39.4" r="1.7" fill="#6090e8"/><circle cx="386.7" cy="32.1" r="2" fill="#66da66"/><circle cx="384.5" cy="34.5" r="1.9" fill="#66da66"/><circle cx="385.9" cy="52" r="2" fill="#66da66"/><circle cx="389.6" cy="53.7" r="2.4" fill="#66da66"/><circle cx="386.3" cy="51.5" r="2.3" fill="#66da66"/><circle cx="386" cy="51.2" r="2.1" fill="#6090e8"/><circle cx="383.2" cy="43.5" r="1.9" fill="#6090e8"/><circle cx="384.5" cy="50" r="2.3" fill="#66da66"/><circle cx="381.6" cy="39" r="2" fill="#66da66"/><circle cx="390.6" cy="48.9" r="2.2" fill="#6090e8"/><circle cx="385.4" cy="35.7" r="2.3" fill="#6090e8"/><circle cx="387" cy="29" r="1.8" fill="#6090e8"/><circle cx="387.9" cy="36.9" r="2.3" fill="#6090e8"/><circle cx="386.8" cy="49.3" r="2" fill="#66da66"/><circle cx="383.9" cy="52.9" r="2.1" fill="#66da66"/><circle cx="386.4" cy="30.9" r="2.1" fill="#66da66"/><circle cx="382" cy="38.7" r="2.4" fill="#66da66"/><circle cx="382.4" cy="38.6" r="2" fill="#6090e8"/></g>
<ellipse cx="376.5" cy="40.5" rx="3.6" ry="4.2" fill="#66da66"/>
<ellipse cx="362.5" cy="40.5" rx="3" ry="9" fill="#6090e8"/>
<ellipse cx="373.5" cy="40.5" rx="3" ry="7.5" fill="#6090e8"/>
<ellipse cx="368" cy="40.5" rx="4.4" ry="7.5" fill="#66da66"/>
<path d="M372,40.5h0 M370,45.7h0 M366,45.7h0 M364,40.5h0 M366,35.3h0 M370,35.3h0" stroke="#c07a6a" stroke-width="2.3" stroke-linecap="round"/>
<text x="396" y="49.5" font-size="17.5" fill="#ff0000" text-anchor="start" font-family="Liberation Serif" font-weight="bold" stroke="#ff0000" stroke-width="0.4" >1G</text>
<text x="358" y="69.7" font-size="15" fill="#6f2f9f" text-anchor="start" font-family="Liberation Serif" font-weight="bold" stroke="#6f2f9f" stroke-width="0.45" >334</text>
<use href="#L" transform="translate(358.4,71) scale(-0.669,0.882)"/>
<use href="#L" transform="translate(347.7,71) scale(0.669,0.882)"/>
<g opacity="0.95"><circle cx="351.5" cy="89.4" r="2.2" fill="#6090e8"/><circle cx="355.6" cy="99.7" r="2.1" fill="#6090e8"/><circle cx="355.5" cy="98.9" r="1.7" fill="#66da66"/><circle cx="355.9" cy="91.9" r="1.8" fill="#66da66"/><circle cx="348.8" cy="85.1" r="2.3" fill="#6090e8"/><circle cx="351.2" cy="88.5" r="2.4" fill="#66da66"/><circle cx="351.5" cy="83.2" r="1.9" fill="#6090e8"/><circle cx="355.2" cy="73.6" r="2.3" fill="#66da66"/><circle cx="350.1" cy="84" r="1.8" fill="#66da66"/><circle cx="350.3" cy="76.1" r="2.4" fill="#66da66"/><circle cx="354.3" cy="75" r="2.1" fill="#6090e8"/><circle cx="351.7" cy="99.4" r="2.1" fill="#66da66"/><circle cx="354.8" cy="81.9" r="2.2" fill="#66da66"/><circle cx="354.3" cy="89.4" r="1.9" fill="#6090e8"/><circle cx="351.8" cy="88.6" r="1.8" fill="#6090e8"/><circle cx="353.5" cy="74.9" r="1.8" fill="#6090e8"/><circle cx="352.2" cy="83" r="2.5" fill="#6090e8"/><circle cx="355.1" cy="91.6" r="2.3" fill="#66da66"/><circle cx="355.6" cy="90.9" r="1.9" fill="#6090e8"/><circle cx="355.9" cy="95" r="1.9" fill="#66da66"/><circle cx="351.9" cy="98.3" r="2.5" fill="#66da66"/><circle cx="355.6" cy="95" r="1.9" fill="#6090e8"/><circle cx="353.6" cy="80.9" r="2.3" fill="#6090e8"/><circle cx="350.1" cy="78.6" r="1.8" fill="#6090e8"/><circle cx="350.3" cy="90" r="2" fill="#6090e8"/><circle cx="355.8" cy="96" r="2.2" fill="#66da66"/><circle cx="352.1" cy="84.1" r="1.9" fill="#6090e8"/><circle cx="355.9" cy="77.7" r="2.2" fill="#6090e8"/><circle cx="353.3" cy="73.3" r="1.8" fill="#6090e8"/><circle cx="351.4" cy="75.5" r="1.9" fill="#66da66"/><circle cx="357.6" cy="99.6" r="1.8" fill="#6090e8"/><circle cx="353" cy="96.6" r="2.4" fill="#6090e8"/><circle cx="355.2" cy="87" r="2.2" fill="#6090e8"/><circle cx="354" cy="96.7" r="2.4" fill="#6090e8"/><circle cx="353.4" cy="99.6" r="2" fill="#6090e8"/></g>
<use href="#L" transform="translate(379,73) scale(0.613,0.853)"/>
<g opacity="0.95"><circle cx="381.5" cy="79.7" r="2.1" fill="#66da66"/><circle cx="387.3" cy="98" r="2.1" fill="#66da66"/><circle cx="384.6" cy="78.3" r="1.8" fill="#66da66"/><circle cx="380.2" cy="83.4" r="2.1" fill="#66da66"/><circle cx="384.6" cy="91.7" r="2.4" fill="#66da66"/><circle cx="380.8" cy="85.3" r="2.3" fill="#6090e8"/><circle cx="383.5" cy="99" r="2" fill="#6090e8"/><circle cx="382.6" cy="90.8" r="2.4" fill="#66da66"/><circle cx="380.4" cy="80.4" r="2.4" fill="#66da66"/><circle cx="381.7" cy="84.5" r="2.2" fill="#6090e8"/><circle cx="380.1" cy="88.7" r="2.4" fill="#6090e8"/><circle cx="380.9" cy="85.1" r="2.5" fill="#6090e8"/><circle cx="382.6" cy="75.2" r="2" fill="#6090e8"/><circle cx="381.7" cy="95.6" r="2.3" fill="#6090e8"/><circle cx="384.7" cy="86" r="2.3" fill="#6090e8"/><circle cx="382.1" cy="77.7" r="2.3" fill="#6090e8"/><circle cx="384.4" cy="81.5" r="1.7" fill="#66da66"/><circle cx="382.7" cy="75" r="2.1" fill="#6090e8"/><circle cx="385.3" cy="97.8" r="1.9" fill="#6090e8"/><circle cx="386.6" cy="100" r="1.7" fill="#6090e8"/><circle cx="386.1" cy="99.7" r="2.4" fill="#66da66"/><circle cx="380.1" cy="90.2" r="2" fill="#66da66"/><circle cx="385.6" cy="92.9" r="2.1" fill="#6090e8"/><circle cx="382.1" cy="76.8" r="2.2" fill="#6090e8"/><circle cx="384.1" cy="93.4" r="2.2" fill="#6090e8"/><circle cx="381.1" cy="84.3" r="1.8" fill="#6090e8"/><circle cx="381" cy="78" r="1.8" fill="#66da66"/><circle cx="384.9" cy="86.5" r="2" fill="#6090e8"/><circle cx="383.9" cy="81.8" r="2.3" fill="#6090e8"/><circle cx="386.2" cy="94.6" r="2.3" fill="#66da66"/><circle cx="383.8" cy="77.3" r="1.8" fill="#66da66"/></g>
<ellipse cx="360" cy="86" rx="3.3" ry="4" fill="#66da66"/>
<ellipse cx="377" cy="86" rx="3.7" ry="4.2" fill="#6090e8"/>
<ellipse cx="364.7" cy="85.5" rx="2.4" ry="9.5" fill="#6090e8"/>
<ellipse cx="370.5" cy="86" rx="4.6" ry="8.8" fill="#66da66"/>
<path d="M370,86h0 M369,91.2h0 M367,91.2h0 M366,86h0 M367,80.8h0 M369,80.8h0" stroke="#c07a6a" stroke-width="2.3" stroke-linecap="round"/>
<line x1="399.2" y1="86.2" x2="423.3" y2="86.2" stroke="#50c850" stroke-width="1.6"/>
<use href="#L" transform="translate(403.2,71.5) scale(-0.823,0.868)"/>
<use href="#L" transform="translate(419.3,71.5) scale(0.823,0.868)"/>
<ellipse cx="411.7" cy="87.2" rx="8" ry="11.2" fill="#66da66"/>
<ellipse cx="414.9" cy="81.4" rx="4.6" ry="5" fill="#6090e8"/>
<ellipse cx="408.5" cy="93.1" rx="4.6" ry="5" fill="#6090e8"/>
<path d="M417,87.2h0 M414.4,91.9h0 M409,91.9h0 M406.3,87.2h0 M409,82.6h0 M414.4,82.6h0" stroke="#c07a6a" stroke-width="2.2" stroke-linecap="round"/>
<line x1="443.3" y1="86.2" x2="467.7" y2="86.2" stroke="#50c850" stroke-width="1.6"/>
<use href="#L" transform="translate(447.3,71.5) scale(-0.833,0.868)"/>
<use href="#L" transform="translate(463.7,71.5) scale(0.833,0.868)"/>
<ellipse cx="456.8" cy="88.4" rx="8.1" ry="10.1" fill="#66da66"/>
<ellipse cx="453.4" cy="83.2" rx="6.1" ry="6.8" fill="#6090e8"/>
<ellipse cx="457.4" cy="94.5" rx="5.4" ry="4" fill="#6090e8"/>
<path d="M461.3,87.2h0 M458.6,91.9h0 M453.2,91.9h0 M450.5,87.2h0 M453.2,82.6h0 M458.6,82.6h0" stroke="#c07a6a" stroke-width="2.2" stroke-linecap="round"/>
<line x1="487" y1="86.2" x2="513" y2="86.2" stroke="#50c850" stroke-width="1.6"/>
<use href="#L" transform="translate(491.3,71.5) scale(-0.891,0.868)"/>
<use href="#L" transform="translate(508.7,71.5) scale(0.891,0.868)"/>
<ellipse cx="500.5" cy="87.2" rx="7.7" ry="10.2" fill="#66da66"/>
<ellipse cx="494.7" cy="88.5" rx="3.9" ry="7.4" fill="#6090e8"/>
<ellipse cx="506.3" cy="88.5" rx="3.9" ry="7.4" fill="#6090e8"/>
<path d="M506.3,87.2h0 M503.4,92.3h0 M497.6,92.3h0 M494.7,87.2h0 M497.6,82.2h0 M503.4,82.2h0" stroke="#c07a6a" stroke-width="2.2" stroke-linecap="round"/>
<line x1="533.7" y1="88" x2="556.3" y2="88" stroke="#50c850" stroke-width="1.6"/>
<use href="#L" transform="translate(537.4,74) scale(-0.775,0.824)"/>
<use href="#L" transform="translate(552.6,74) scale(0.775,0.824)"/>
<ellipse cx="545.4" cy="90.2" rx="8.4" ry="9.8" fill="#66da66"/>
<ellipse cx="540.7" cy="86" rx="3.7" ry="5.1" fill="#6090e8"/>
<ellipse cx="550.1" cy="86" rx="3.7" ry="5.1" fill="#6090e8"/>
<ellipse cx="541.2" cy="95.1" rx="3.7" ry="4.7" fill="#6090e8"/>
<ellipse cx="550.1" cy="95.1" rx="3.7" ry="4.7" fill="#6090e8"/>
<ellipse cx="545.4" cy="90.2" rx="3.4" ry="8.8" fill="#66da66"/>
<path d="M550.4,90.2h0 M547.9,94.6h0 M542.9,94.6h0 M540.4,90.2h0 M542.9,85.9h0 M547.9,85.9h0" stroke="#c07a6a" stroke-width="2.2" stroke-linecap="round"/>
<line x1="579" y1="88" x2="602.5" y2="88" stroke="#50c850" stroke-width="1.6"/>
<use href="#L" transform="translate(582.9,74) scale(-0.804,0.824)"/>
<use href="#L" transform="translate(598.6,74) scale(0.804,0.824)"/>
<ellipse cx="591.2" cy="83.1" rx="7.8" ry="5.1" fill="#66da66"/>
<ellipse cx="591.2" cy="95.9" rx="7.8" ry="5.1" fill="#66da66"/>
<ellipse cx="591.2" cy="89.5" rx="8.7" ry="5.5" fill="#6090e8"/>
<path d="M596.4,89.5h0 M593.8,94h0 M588.6,94h0 M585.9,89.5h0 M588.6,85h0 M593.8,85h0" stroke="#c07a6a" stroke-width="2.2" stroke-linecap="round"/>
<line x1="626.9" y1="86" x2="650.1" y2="86" stroke="#50c850" stroke-width="1.6"/>
<use href="#L" transform="translate(630.7,72) scale(-0.794,0.824)"/>
<use href="#L" transform="translate(646.3,72) scale(0.794,0.824)"/>
<ellipse cx="638.9" cy="87.7" rx="8.6" ry="10.9" fill="#66da66"/>
<ellipse cx="642.7" cy="81.5" rx="4.3" ry="4.4" fill="#6090e8"/>
<ellipse cx="635.1" cy="90.3" rx="4.1" ry="5.7" fill="#6090e8"/>
<path d="M644.1,87.7h0 M641.5,92.1h0 M636.3,92.1h0 M633.7,87.7h0 M636.3,83.2h0 M641.5,83.2h0" stroke="#c07a6a" stroke-width="2.2" stroke-linecap="round"/>
<text x="663" y="101.5" font-size="17.5" fill="#ff0000" text-anchor="start" font-family="Liberation Serif" font-weight="bold" stroke="#ff0000" stroke-width="0.4" >1F</text>
<text x="357" y="115" font-size="15" fill="#6f2f9f" text-anchor="start" font-family="Liberation Serif" font-weight="bold" stroke="#6f2f9f" stroke-width="0.45" >327</text>
<text x="397" y="115" font-size="15" fill="#6f2f9f" text-anchor="start" font-family="Liberation Serif" font-weight="bold" stroke="#6f2f9f" stroke-width="0.45" >328</text>
<text x="443" y="115" font-size="15" fill="#6f2f9f" text-anchor="start" font-family="Liberation Serif" font-weight="bold" stroke="#6f2f9f" stroke-width="0.45" >329</text>
<text x="491" y="115" font-size="15" fill="#6f2f9f" text-anchor="start" font-family="Liberation Serif" font-weight="bold" stroke="#6f2f9f" stroke-width="0.45" >330</text>
<text x="534" y="115" font-size="15" fill="#6f2f9f" text-anchor="start" font-family="Liberation Serif" font-weight="bold" stroke="#6f2f9f" stroke-width="0.45" >331</text>
<text x="583" y="116.5" font-size="15" fill="#6f2f9f" text-anchor="start" font-family="Liberation Serif" font-weight="bold" stroke="#6f2f9f" stroke-width="0.45" >332</text>
<text x="628" y="116.5" font-size="15" fill="#6f2f9f" text-anchor="start" font-family="Liberation Serif" font-weight="bold" stroke="#6f2f9f" stroke-width="0.45" >333</text>
<line x1="355.8" y1="131.5" x2="381.2" y2="131.5" stroke="#50c850" stroke-width="1.6"/>
<use href="#L" transform="translate(359.9,117) scale(-0.872,0.853)"/>
<use href="#L" transform="translate(377.1,117) scale(0.872,0.853)"/>
<ellipse cx="368.9" cy="135.6" rx="9.4" ry="7.4" fill="#66da66"/>
<ellipse cx="368.9" cy="126.9" rx="8.5" ry="6.9" fill="#6090e8"/>
<path d="M374.6,131.5h0 M371.8,136.4h0 M366.1,136.4h0 M363.3,131.5h0 M366.1,126.6h0 M371.8,126.6h0" stroke="#c07a6a" stroke-width="2.2" stroke-linecap="round"/>
<line x1="403.3" y1="131.5" x2="427.7" y2="131.5" stroke="#50c850" stroke-width="1.6"/>
<use href="#L" transform="translate(407.3,117) scale(-0.833,0.853)"/>
<use href="#L" transform="translate(423.7,117) scale(0.833,0.853)"/>
<ellipse cx="415.9" cy="134.2" rx="9" ry="8.8" fill="#66da66"/>
<ellipse cx="415.9" cy="126.5" rx="6.9" ry="4.8" fill="#6090e8"/>
<path d="M421.3,132h0 M418.6,136.7h0 M413.2,136.7h0 M410.5,132h0 M413.2,127.3h0 M418.6,127.3h0" stroke="#c07a6a" stroke-width="2.2" stroke-linecap="round"/>
<use href="#L" transform="translate(457,118.4) scale(-0.750,0.841)"/>
<g opacity="0.95"><circle cx="448.4" cy="124" r="2" fill="#6090e8"/><circle cx="451.3" cy="124.6" r="1.7" fill="#66da66"/><circle cx="449.7" cy="122.5" r="1.6" fill="#6090e8"/><circle cx="451.7" cy="122" r="1.6" fill="#6090e8"/><circle cx="454.3" cy="137.5" r="2.2" fill="#6090e8"/><circle cx="451.8" cy="136.6" r="1.9" fill="#6090e8"/><circle cx="450.5" cy="136.7" r="1.9" fill="#66da66"/><circle cx="453.5" cy="137.7" r="2.1" fill="#6090e8"/></g>
<use href="#L" transform="translate(476.6,118.4) scale(0.712,0.841)"/>
<g opacity="0.95"><circle cx="484" cy="126.4" r="1.9" fill="#6090e8"/><circle cx="481.3" cy="126.9" r="1.9" fill="#6090e8"/><circle cx="480.7" cy="123.8" r="2" fill="#6090e8"/><circle cx="485.7" cy="128.5" r="2.1" fill="#6090e8"/><circle cx="484.2" cy="136.3" r="2" fill="#6090e8"/><circle cx="479.8" cy="136.8" r="2.3" fill="#6090e8"/><circle cx="482.2" cy="139.3" r="2" fill="#6090e8"/><circle cx="484.6" cy="137.9" r="2.3" fill="#6090e8"/></g>
<ellipse cx="461.3" cy="133" rx="3.6" ry="8.5" fill="#66da66"/>
<ellipse cx="471.5" cy="133" rx="3.2" ry="8" fill="#6090e8"/>
<ellipse cx="466.5" cy="133" rx="3" ry="6" fill="#66da66"/>
<path d="M470,133h0 M468,138.2h0 M464,138.2h0 M462,133h0 M464,127.8h0 M468,127.8h0" stroke="#c07a6a" stroke-width="2.3" stroke-linecap="round"/>
<text x="491" y="145" font-size="17.5" fill="#ff0000" text-anchor="start" font-family="Liberation Serif" font-weight="bold" stroke="#ff0000" stroke-width="0.4" >2P</text>
<text x="360" y="158.7" font-size="15" fill="#6f2f9f" text-anchor="start" font-family="Liberation Serif" font-weight="bold" stroke="#6f2f9f" stroke-width="0.45" >314</text>
<text x="410" y="158.7" font-size="15" fill="#6f2f9f" text-anchor="start" font-family="Liberation Serif" font-weight="bold" stroke="#6f2f9f" stroke-width="0.45" >315</text>
<text x="460" y="158.7" font-size="15" fill="#6f2f9f" text-anchor="start" font-family="Liberation Serif" font-weight="bold" stroke="#6f2f9f" stroke-width="0.45" >322</text>
<line x1="354.8" y1="178.8" x2="380.2" y2="178.8" stroke="#50c850" stroke-width="1.6"/>
<use href="#L" transform="translate(358.9,164) scale(-0.872,0.871)"/>
<use href="#L" transform="translate(376.1,164) scale(0.872,0.871)"/>
<ellipse cx="367.9" cy="176.8" rx="9.4" ry="10.2" fill="#6090e8"/>
<path d="M373.6,176.8h0 M370.8,181.7h0 M365.1,181.7h0 M362.3,176.8h0 M365.1,171.9h0 M370.8,171.9h0" stroke="#c07a6a" stroke-width="2.2" stroke-linecap="round"/>
<text x="390" y="188.4" font-size="17.5" fill="#ff0000" text-anchor="start" font-family="Liberation Serif" font-weight="bold" stroke="#ff0000" stroke-width="0.4" >2S</text>
<line x1="423.7" y1="178.8" x2="447.8" y2="178.8" stroke="#50c850" stroke-width="1.6"/>
<use href="#L" transform="translate(427.7,164) scale(-0.823,0.871)"/>
<use href="#L" transform="translate(443.8,164) scale(0.823,0.871)"/>
<ellipse cx="436.2" cy="179.8" rx="8.9" ry="6.2" fill="#66da66"/>
<ellipse cx="436.2" cy="172.4" rx="8" ry="5.8" fill="#6090e8"/>
<path d="M441.5,176.3h0 M438.9,180.9h0 M433.5,180.9h0 M430.8,176.3h0 M433.5,171.7h0 M438.9,171.7h0" stroke="#c07a6a" stroke-width="2.2" stroke-linecap="round"/>
<line x1="469.3" y1="178.8" x2="494.7" y2="178.8" stroke="#50c850" stroke-width="1.6"/>
<use href="#L" transform="translate(473.4,164) scale(-0.872,0.871)"/>
<use href="#L" transform="translate(490.6,164) scale(0.872,0.871)"/>
<ellipse cx="482.4" cy="170.1" rx="8.5" ry="5.1" fill="#66da66"/>
<ellipse cx="482.4" cy="182.9" rx="8.5" ry="5.1" fill="#66da66"/>
<ellipse cx="482.4" cy="176.5" rx="9.4" ry="5.5" fill="#6090e8"/>
<path d="M488.1,176.5h0 M485.3,181.4h0 M479.6,181.4h0 M476.8,176.5h0 M479.6,171.6h0 M485.3,171.6h0" stroke="#c07a6a" stroke-width="2.2" stroke-linecap="round"/>
<line x1="515.8" y1="178.8" x2="541.2" y2="178.8" stroke="#50c850" stroke-width="1.6"/>
<use href="#L" transform="translate(520,164) scale(-0.872,0.871)"/>
<use href="#L" transform="translate(537,164) scale(0.872,0.871)"/>
<ellipse cx="529" cy="177" rx="8.5" ry="10" fill="#66da66"/>
<ellipse cx="524.2" cy="177" rx="4.2" ry="6" fill="#6090e8"/>
<ellipse cx="533.7" cy="177" rx="4.2" ry="6" fill="#6090e8"/>
<path d="M534.6,177h0 M531.8,181.9h0 M526.1,181.9h0 M523.3,177h0 M526.1,172.1h0 M531.8,172.1h0" stroke="#c07a6a" stroke-width="2.2" stroke-linecap="round"/>
<line x1="564" y1="178.8" x2="590" y2="178.8" stroke="#50c850" stroke-width="1.6"/>
<use href="#L" transform="translate(568.3,164) scale(-0.891,0.871)"/>
<use href="#L" transform="translate(585.7,164) scale(0.891,0.871)"/>
<ellipse cx="577.5" cy="177.5" rx="9.7" ry="10.5" fill="#66da66"/>
<ellipse cx="573.6" cy="174.3" rx="4.8" ry="6.3" fill="#6090e8"/>
<ellipse cx="580.4" cy="181.7" rx="4.3" ry="5.2" fill="#6090e8"/>
<path d="M583.3,177.5h0 M580.4,182.5h0 M574.6,182.5h0 M571.7,177.5h0 M574.6,172.5h0 M580.4,172.5h0" stroke="#c07a6a" stroke-width="2.2" stroke-linecap="round"/>
<line x1="613" y1="178.8" x2="639" y2="178.8" stroke="#50c850" stroke-width="1.6"/>
<use href="#L" transform="translate(617.3,164) scale(-0.891,0.871)"/>
<use href="#L" transform="translate(634.7,164) scale(0.891,0.871)"/>
<ellipse cx="620.3" cy="178.6" rx="3.5" ry="7.3" fill="#66da66"/>
<ellipse cx="632.6" cy="178.6" rx="3.5" ry="7.3" fill="#66da66"/>
<ellipse cx="626.5" cy="177.5" rx="4.3" ry="10.5" fill="#6090e8"/>
<path d="M632.3,177.5h0 M629.4,182.5h0 M623.6,182.5h0 M620.7,177.5h0 M623.6,172.5h0 M629.4,172.5h0" stroke="#c07a6a" stroke-width="2.2" stroke-linecap="round"/>
<text x="650" y="188.4" font-size="17.5" fill="#ff0000" text-anchor="start" font-family="Liberation Serif" font-weight="bold" stroke="#ff0000" stroke-width="0.4" >1D</text>
<text x="358" y="205.3" font-size="15" fill="#6f2f9f" text-anchor="start" font-family="Liberation Serif" font-weight="bold" stroke="#6f2f9f" stroke-width="0.45" >290</text>
<text x="425" y="205.3" font-size="15" fill="#6f2f9f" text-anchor="start" font-family="Liberation Serif" font-weight="bold" stroke="#6f2f9f" stroke-width="0.45" >303</text>
<text x="471" y="205.3" font-size="15" fill="#6f2f9f" text-anchor="start" font-family="Liberation Serif" font-weight="bold" stroke="#6f2f9f" stroke-width="0.45" >304</text>
<text x="517" y="205.3" font-size="15" fill="#6f2f9f" text-anchor="start" font-family="Liberation Serif" font-weight="bold" stroke="#6f2f9f" stroke-width="0.45" >305</text>
<text x="566" y="205.3" font-size="15" fill="#6f2f9f" text-anchor="start" font-family="Liberation Serif" font-weight="bold" stroke="#6f2f9f" stroke-width="0.45" >306</text>
<text x="613" y="205.3" font-size="15" fill="#6f2f9f" text-anchor="start" font-family="Liberation Serif" font-weight="bold" stroke="#6f2f9f" stroke-width="0.45" >307</text>
<line x1="353.4" y1="223.8" x2="378.1" y2="223.8" stroke="#50c850" stroke-width="1.6"/>
<use href="#L" transform="translate(357.5,207.7) scale(-0.843,0.950)"/>
<use href="#L" transform="translate(374,207.7) scale(0.843,0.950)"/>
<ellipse cx="366.2" cy="223.5" rx="9.1" ry="8.5" fill="#66da66"/>
<path d="M371.3,223.5h0 M368.7,227.9h0 M363.6,227.9h0 M361.1,223.5h0 M363.6,219.1h0 M368.7,219.1h0" stroke="#c07a6a" stroke-width="2.2" stroke-linecap="round"/>
<line x1="424.9" y1="223.8" x2="448.1" y2="223.8" stroke="#50c850" stroke-width="1.6"/>
<use href="#L" transform="translate(428.7,207.7) scale(-0.794,0.950)"/>
<g opacity="0.95"><circle cx="424.4" cy="219" r="2.1" fill="#6090e8"/><circle cx="421.7" cy="220.6" r="2" fill="#6090e8"/><circle cx="421.6" cy="219.4" r="1.7" fill="#6090e8"/><circle cx="420.8" cy="219.4" r="1.7" fill="#6090e8"/><circle cx="422.8" cy="229.2" r="2.1" fill="#6090e8"/><circle cx="420.7" cy="231.5" r="2.1" fill="#6090e8"/><circle cx="424.3" cy="228.1" r="2.1" fill="#6090e8"/><circle cx="419.5" cy="230.1" r="1.7" fill="#66da66"/></g>
<use href="#L" transform="translate(444.3,207.7) scale(0.794,0.950)"/>
<g opacity="0.95"><circle cx="453.2" cy="217.7" r="2.1" fill="#66da66"/><circle cx="447.7" cy="215.2" r="2.2" fill="#66da66"/><circle cx="448.4" cy="215" r="1.6" fill="#6090e8"/><circle cx="452.7" cy="214.3" r="1.6" fill="#6090e8"/><circle cx="447.5" cy="230.3" r="2.1" fill="#66da66"/><circle cx="451.9" cy="228" r="1.9" fill="#6090e8"/><circle cx="450.6" cy="228.1" r="1.8" fill="#6090e8"/><circle cx="449.5" cy="231" r="1.7" fill="#6090e8"/></g>
<ellipse cx="436.9" cy="223.5" rx="8.6" ry="8.5" fill="#66da66"/>
<ellipse cx="437.8" cy="227.6" rx="6.2" ry="4.1" fill="#6090e8"/>
<path d="M442,223.5h0 M439.5,227.9h0 M434.4,227.9h0 M431.8,223.5h0 M434.4,219.1h0 M439.5,219.1h0" stroke="#c07a6a" stroke-width="2.2" stroke-linecap="round"/>
<line x1="475.5" y1="223.8" x2="500.2" y2="223.8" stroke="#50c850" stroke-width="1.6"/>
<use href="#L" transform="translate(479.5,207.7) scale(-0.847,0.950)"/>
<g opacity="0.95"><circle cx="476.1" cy="217.5" r="2.1" fill="#6090e8"/><circle cx="470.6" cy="215.5" r="2.3" fill="#6090e8"/><circle cx="471.5" cy="218.4" r="1.8" fill="#66da66"/><circle cx="473.6" cy="220.3" r="2.1" fill="#66da66"/><circle cx="472.6" cy="232.4" r="1.9" fill="#6090e8"/><circle cx="473.5" cy="231.7" r="1.8" fill="#6090e8"/><circle cx="474.4" cy="234.3" r="1.9" fill="#66da66"/><circle cx="471.9" cy="233.3" r="1.7" fill="#6090e8"/></g>
<use href="#L" transform="translate(496.2,207.7) scale(0.847,0.950)"/>
<g opacity="0.95"><circle cx="500.8" cy="216" r="1.6" fill="#66da66"/><circle cx="499.9" cy="214.9" r="1.6" fill="#6090e8"/><circle cx="498.9" cy="218.1" r="2.1" fill="#6090e8"/><circle cx="505.4" cy="215.9" r="1.8" fill="#6090e8"/><circle cx="500.7" cy="231" r="1.8" fill="#6090e8"/><circle cx="500.1" cy="229.3" r="1.9" fill="#6090e8"/><circle cx="505.3" cy="232.3" r="2" fill="#6090e8"/><circle cx="503.5" cy="234.2" r="1.7" fill="#6090e8"/></g>
<ellipse cx="488.3" cy="224.3" rx="9.2" ry="7.7" fill="#66da66"/>
<ellipse cx="490.1" cy="227.1" rx="6.6" ry="4.6" fill="#6090e8"/>
<path d="M492.9,224.3h0 M490.6,228.3h0 M486,228.3h0 M483.7,224.3h0 M486,220.4h0 M490.6,220.4h0" stroke="#c07a6a" stroke-width="2.2" stroke-linecap="round"/>
<line x1="524.3" y1="224.2" x2="548.7" y2="224.2" stroke="#50c850" stroke-width="1.6"/>
<use href="#L" transform="translate(528.3,209.7) scale(-0.833,0.856)"/>
<use href="#L" transform="translate(544.7,209.7) scale(0.833,0.856)"/>
<ellipse cx="533.3" cy="224" rx="5.4" ry="8.1" fill="#6090e8"/>
<ellipse cx="540.5" cy="224" rx="5.4" ry="8.1" fill="#66da66"/>
<path d="M542.3,224h0 M539.6,228.7h0 M534.2,228.7h0 M531.5,224h0 M534.2,219.3h0 M539.6,219.3h0" stroke="#c07a6a" stroke-width="2.2" stroke-linecap="round"/>
<text x="389" y="232" font-size="17.5" fill="#ff0000" text-anchor="start" font-family="Liberation Serif" font-weight="bold" stroke="#ff0000" stroke-width="0.4" >1S</text>
<text x="589" y="231" font-size="17.5" fill="#ff0000" text-anchor="start" font-family="Liberation Serif" font-weight="bold" stroke="#ff0000" stroke-width="0.4" >1P</text>
<text x="358" y="251.4" font-size="15" fill="#6f2f9f" text-anchor="start" font-family="Liberation Serif" font-weight="bold" stroke="#6f2f9f" stroke-width="0.45" >182</text>
<text x="427" y="251.4" font-size="15" fill="#6f2f9f" text-anchor="start" font-family="Liberation Serif" font-weight="bold" stroke="#6f2f9f" stroke-width="0.45" >240</text>
<text x="475" y="251.4" font-size="15" fill="#6f2f9f" text-anchor="start" font-family="Liberation Serif" font-weight="bold" stroke="#6f2f9f" stroke-width="0.45" >242</text>
<text x="524" y="251.4" font-size="15" fill="#6f2f9f" text-anchor="start" font-family="Liberation Serif" font-weight="bold" stroke="#6f2f9f" stroke-width="0.45" >247</text>
<text x="7" y="300.5" font-size="31" fill="#000" text-anchor="start" font-family="Liberation Serif" font-weight="bold" stroke="#000" stroke-width="0.6" >b</text>
<line x1="102.9" y1="303" x2="102.9" y2="328" stroke="#000" stroke-width="2.4"/>
<path d="M99.0,305 L102.9,296.5 L106.80000000000001,305Z" fill="#000"/>
<line x1="155.7" y1="296" x2="155.7" y2="321" stroke="#000" stroke-width="2.4"/>
<path d="M151.79999999999998,318.5 L155.7,327 L159.6,318.5Z" fill="#000"/>
<line x1="209" y1="303" x2="209" y2="328" stroke="#000" stroke-width="2.4"/>
<path d="M205.1,305 L209,296.5 L212.9,305Z" fill="#000"/>
<line x1="262" y1="296" x2="262" y2="321" stroke="#000" stroke-width="2.4"/>
<path d="M258.1,318.5 L262,327 L265.9,318.5Z" fill="#000"/>
<line x1="307" y1="303" x2="307" y2="328" stroke="#000" stroke-width="2.4"/>
<path d="M303.1,305 L307,296.5 L310.9,305Z" fill="#000"/>
<line x1="360.6" y1="296" x2="360.6" y2="321" stroke="#000" stroke-width="2.4"/>
<path d="M356.70000000000005,318.5 L360.6,327 L364.5,318.5Z" fill="#000"/>
<path d="M76.4,347.8 H81.6 V592.6 H386" fill="none" stroke="#222" stroke-width="1.5"/>
<line x1="76.4" y1="401.1" x2="81.6" y2="401.1" stroke="#222" stroke-width="1.5"/>
<line x1="76.4" y1="454.4" x2="81.6" y2="454.4" stroke="#222" stroke-width="1.5"/>
<line x1="76.4" y1="507.8" x2="81.6" y2="507.8" stroke="#222" stroke-width="1.5"/>
<line x1="76.4" y1="561.1" x2="81.6" y2="561.1" stroke="#222" stroke-width="1.5"/>
<line x1="78.8" y1="374.5" x2="81.6" y2="374.5" stroke="#222" stroke-width="1.3"/>
<line x1="78.8" y1="427.8" x2="81.6" y2="427.8" stroke="#222" stroke-width="1.3"/>
<line x1="78.8" y1="481.1" x2="81.6" y2="481.1" stroke="#222" stroke-width="1.3"/>
<line x1="78.8" y1="534.4" x2="81.6" y2="534.4" stroke="#222" stroke-width="1.3"/>
<line x1="78.8" y1="587.8" x2="81.6" y2="587.8" stroke="#222" stroke-width="1.3"/>
<text x="72.8" y="352.8" font-size="15.5" fill="#000" text-anchor="end" font-family="Liberation Serif" font-weight="bold" stroke="#000" stroke-width="0.4" >0</text>
<text x="72.8" y="406.125" font-size="15.5" fill="#000" text-anchor="end" font-family="Liberation Serif" font-weight="bold" stroke="#000" stroke-width="0.4" >-5</text>
<text x="72.8" y="459.45" font-size="15.5" fill="#000" text-anchor="end" font-family="Liberation Serif" font-weight="bold" stroke="#000" stroke-width="0.4" >-10</text>
<text x="72.8" y="512.775" font-size="15.5" fill="#000" text-anchor="end" font-family="Liberation Serif" font-weight="bold" stroke="#000" stroke-width="0.4" >-15</text>
<text x="72.8" y="566.1" font-size="15.5" fill="#000" text-anchor="end" font-family="Liberation Serif" font-weight="bold" stroke="#000" stroke-width="0.4" >-20</text>
<text transform="translate(45,464.5) rotate(-90)" text-anchor="middle" font-size="21" font-family="Liberation Serif" font-weight="bold" stroke="#000" stroke-width="0.5" fill="#000">Energy (eV)</text>
<line x1="93" y1="349.5" x2="120" y2="349.5" stroke="#111" stroke-width="1.3" stroke-dasharray="1.5 1.2"/>
<line x1="93" y1="352.5" x2="120" y2="352.5" stroke="#111" stroke-width="1.3" stroke-dasharray="1.5 1.2"/>
<line x1="93" y1="354.2" x2="120" y2="354.2" stroke="#111" stroke-width="1.3" stroke-dasharray="1.5 1.2"/>
<line x1="93" y1="355.8" x2="120" y2="355.8" stroke="#111" stroke-width="1.3" stroke-dasharray="1.5 1.2"/>
<line x1="93" y1="357.4" x2="120" y2="357.4" stroke="#111" stroke-width="1.3" stroke-dasharray="1.5 1.2"/>
<line x1="93" y1="362.4" x2="120" y2="362.4" stroke="#111" stroke-width="1.6" stroke-dasharray="1.5 1.2"/>
<line x1="93" y1="372.3" x2="120" y2="372.3" stroke="#111" stroke-width="1.0" stroke-dasharray="1.5 1.2"/>
<line x1="93" y1="375.5" x2="120" y2="375.5" stroke="#111" stroke-width="1.3" stroke-dasharray="1.5 1.2"/>
<line x1="93" y1="376.9" x2="120" y2="376.9" stroke="#ff2020" stroke-width="1.6" stroke-dasharray="1.5 1.2"/>
<line x1="144" y1="349.2" x2="171" y2="349.2" stroke="#111" stroke-width="1.3" stroke-dasharray="1.5 1.2"/>
<line x1="144" y1="350.8" x2="171" y2="350.8" stroke="#111" stroke-width="1.3" stroke-dasharray="1.5 1.2"/>
<line x1="144" y1="352.4" x2="171" y2="352.4" stroke="#111" stroke-width="1.3" stroke-dasharray="1.5 1.2"/>
<line x1="144" y1="354.0" x2="171" y2="354.0" stroke="#111" stroke-width="1.3" stroke-dasharray="1.5 1.2"/>
<line x1="144" y1="355.3" x2="171" y2="355.3" stroke="#111" stroke-width="1.3" stroke-dasharray="1.5 1.2"/>
<line x1="144" y1="361.7" x2="171" y2="361.7" stroke="#111" stroke-width="1.0" stroke-dasharray="1.5 1.2"/>
<line x1="144" y1="371.2" x2="171" y2="371.2" stroke="#111" stroke-width="1.3" stroke-dasharray="1.5 1.2"/>
<line x1="144" y1="372.8" x2="171" y2="372.8" stroke="#111" stroke-width="1.3" stroke-dasharray="1.5 1.2"/>
<line x1="144" y1="374.4" x2="171" y2="374.4" stroke="#111" stroke-width="1.3" stroke-dasharray="1.5 1.2"/>
<line x1="144" y1="376" x2="171" y2="376" stroke="#111" stroke-width="1.3" stroke-dasharray="1.5 1.2"/>
<line x1="144" y1="377.3" x2="171" y2="377.3" stroke="#111" stroke-width="1.3" stroke-dasharray="1.5 1.2"/>
<line x1="195" y1="349.1" x2="221.5" y2="349.1" stroke="#111" stroke-width="1.0" stroke-dasharray="1.5 1.2"/>
<line x1="195" y1="351.7" x2="221.5" y2="351.7" stroke="#111" stroke-width="1.4" stroke-dasharray="1.5 1.2"/>
<line x1="195" y1="353.3" x2="221.5" y2="353.3" stroke="#111" stroke-width="1.4" stroke-dasharray="1.5 1.2"/>
<line x1="195" y1="357.2" x2="221.5" y2="357.2" stroke="#111" stroke-width="1.6" stroke-dasharray="1.5 1.2"/>
<line x1="195" y1="365.8" x2="221.5" y2="365.8" stroke="#111" stroke-width="1.5" stroke-dasharray="1.5 1.2"/>
<line x1="195" y1="368.7" x2="221.5" y2="368.7" stroke="#111" stroke-width="1.2" stroke-dasharray="1.5 1.2"/>
<line x1="195" y1="375.8" x2="221.5" y2="375.8" stroke="#111" stroke-width="1.1" stroke-dasharray="1.5 1.2"/>
<line x1="195" y1="380.6" x2="221.5" y2="380.6" stroke="#111" stroke-width="1.6" stroke-dasharray="1.5 1.2"/>
<line x1="246" y1="347.9" x2="272.5" y2="347.9" stroke="#111" stroke-width="1.0" stroke-dasharray="1.5 1.2"/>
<line x1="246" y1="350.8" x2="272.5" y2="350.8" stroke="#111" stroke-width="1.4" stroke-dasharray="1.5 1.2"/>
<line x1="246" y1="352.6" x2="272.5" y2="352.6" stroke="#111" stroke-width="1.4" stroke-dasharray="1.5 1.2"/>
<line x1="246" y1="354.3" x2="272.5" y2="354.3" stroke="#111" stroke-width="1.2" stroke-dasharray="1.5 1.2"/>
<line x1="246" y1="356" x2="272.5" y2="356" stroke="#111" stroke-width="1.8" stroke-dasharray="1.5 1.2"/>
<line x1="246" y1="365.3" x2="272.5" y2="365.3" stroke="#111" stroke-width="1.8" stroke-dasharray="1.5 1.2"/>
<line x1="246" y1="375.7" x2="272.5" y2="375.7" stroke="#111" stroke-width="1.1" stroke-dasharray="1.5 1.2"/>
<line x1="246" y1="380.8" x2="272.5" y2="380.8" stroke="#111" stroke-width="1.6" stroke-dasharray="1.5 1.2"/>
<line x1="246" y1="388.3" x2="272.5" y2="388.3" stroke="#ff2020" stroke-width="1.8" stroke-dasharray="1.7 1.9"/>
<line x1="297" y1="350.2" x2="323" y2="350.2" stroke="#111" stroke-width="1.3" stroke-dasharray="1.5 1.2"/>
<line x1="297" y1="351.7" x2="323" y2="351.7" stroke="#111" stroke-width="1.3" stroke-dasharray="1.5 1.2"/>
<line x1="297" y1="353.2" x2="323" y2="353.2" stroke="#111" stroke-width="1.3" stroke-dasharray="1.5 1.2"/>
<line x1="297" y1="354.7" x2="323" y2="354.7" stroke="#111" stroke-width="1.3" stroke-dasharray="1.5 1.2"/>
<line x1="297" y1="356.2" x2="323" y2="356.2" stroke="#111" stroke-width="1.3" stroke-dasharray="1.5 1.2"/>
<line x1="297" y1="357.7" x2="323" y2="357.7" stroke="#111" stroke-width="1.3" stroke-dasharray="1.5 1.2"/>
<line x1="297" y1="359.2" x2="323" y2="359.2" stroke="#111" stroke-width="1.3" stroke-dasharray="1.5 1.2"/>
<line x1="297" y1="360.7" x2="323" y2="360.7" stroke="#111" stroke-width="1.3" stroke-dasharray="1.5 1.2"/>
<line x1="297" y1="367.9" x2="323" y2="367.9" stroke="#111" stroke-width="1.8" stroke-dasharray="1.5 1.2"/>
<line x1="297" y1="377.3" x2="323" y2="377.3" stroke="#111" stroke-width="1.1" stroke-dasharray="1.5 1.2"/>
<line x1="297" y1="381.8" x2="323" y2="381.8" stroke="#111" stroke-width="1.5" stroke-dasharray="1.5 1.2"/>
<line x1="297" y1="384.6" x2="323" y2="384.6" stroke="#111" stroke-width="1.5" stroke-dasharray="1.5 1.2"/>
<line x1="348" y1="349.2" x2="374" y2="349.2" stroke="#111" stroke-width="1.3" stroke-dasharray="1.5 1.2"/>
<line x1="348" y1="350.7" x2="374" y2="350.7" stroke="#111" stroke-width="1.3" stroke-dasharray="1.5 1.2"/>
<line x1="348" y1="352.2" x2="374" y2="352.2" stroke="#111" stroke-width="1.3" stroke-dasharray="1.5 1.2"/>
<line x1="348" y1="353.7" x2="374" y2="353.7" stroke="#111" stroke-width="1.3" stroke-dasharray="1.5 1.2"/>
<line x1="348" y1="355.2" x2="374" y2="355.2" stroke="#111" stroke-width="1.3" stroke-dasharray="1.5 1.2"/>
<line x1="348" y1="356.7" x2="374" y2="356.7" stroke="#111" stroke-width="1.3" stroke-dasharray="1.5 1.2"/>
<line x1="348" y1="358.2" x2="374" y2="358.2" stroke="#111" stroke-width="1.3" stroke-dasharray="1.5 1.2"/>
<line x1="348" y1="359.7" x2="374" y2="359.7" stroke="#111" stroke-width="1.3" stroke-dasharray="1.5 1.2"/>
<line x1="348" y1="360.9" x2="374" y2="360.9" stroke="#111" stroke-width="1.2" stroke-dasharray="1.5 1.2"/>
<line x1="348" y1="367.7" x2="374" y2="367.7" stroke="#111" stroke-width="1.8" stroke-dasharray="1.5 1.2"/>
<line x1="348" y1="377.4" x2="374" y2="377.4" stroke="#111" stroke-width="1.3" stroke-dasharray="1.5 1.2"/>
<line x1="348" y1="379.8" x2="374" y2="379.8" stroke="#111" stroke-width="1.3" stroke-dasharray="1.5 1.2"/>
<line x1="348" y1="382.6" x2="374" y2="382.6" stroke="#111" stroke-width="1.3" stroke-dasharray="1.5 1.2"/>
<line x1="348" y1="395" x2="374" y2="395" stroke="#ff2020" stroke-width="1.8" stroke-dasharray="1.7 1.9"/>
<text x="115" y="386" font-size="14" fill="#000" text-anchor="start" font-family="Liberation Serif" font-weight="bold" stroke="#000" stroke-width="0.35" >-2.76</text>
<text x="269" y="396.5" font-size="14" fill="#000" text-anchor="start" font-family="Liberation Serif" font-weight="bold" stroke="#000" stroke-width="0.35" >-3.81</text>
<text x="345" y="393.5" font-size="14" fill="#000" text-anchor="start" font-family="Liberation Serif" font-weight="bold" stroke="#000" stroke-width="0.35" >-4.41</text>
<line x1="93" y1="395.2" x2="120" y2="395.2" stroke="#1a1aff" stroke-width="1.6"/>
<line x1="93" y1="410.9" x2="120" y2="410.9" stroke="#ff80ff" stroke-width="2.6"/>
<line x1="93" y1="415.4" x2="120" y2="415.4" stroke="#ff80ff" stroke-width="1.1"/>
<line x1="93" y1="428.2" x2="120" y2="428.2" stroke="#ff8000" stroke-width="2.4"/>
<line x1="93" y1="451.3" x2="120" y2="451.3" stroke="#8000ff" stroke-width="2.4"/>
<line x1="93" y1="466.6" x2="120" y2="466.6" stroke="#119911" stroke-width="1.2"/>
<line x1="93" y1="494" x2="120" y2="494" stroke="#ff8000" stroke-width="1.2"/>
<line x1="93" y1="497.5" x2="120" y2="497.5" stroke="#ff8000" stroke-width="1.2"/>
<line x1="93" y1="553.8" x2="120" y2="553.8" stroke="#119911" stroke-width="1.2"/>
<line x1="144" y1="410.9" x2="171" y2="410.9" stroke="#ff80ff" stroke-width="2.6"/>
<line x1="144" y1="426" x2="171" y2="426" stroke="#ff8000" stroke-width="1.2"/>
<line x1="144" y1="428.2" x2="171" y2="428.2" stroke="#ff8000" stroke-width="1.2"/>
<line x1="144" y1="450.2" x2="171" y2="450.2" stroke="#8000ff" stroke-width="2.4"/>
<line x1="144" y1="466" x2="171" y2="466" stroke="#119911" stroke-width="1.2"/>
<line x1="144" y1="493" x2="171" y2="493" stroke="#ff8000" stroke-width="1.2"/>
<line x1="144" y1="497" x2="171" y2="497" stroke="#ff8000" stroke-width="1.2"/>
<line x1="144" y1="553.8" x2="171" y2="553.8" stroke="#119911" stroke-width="1.2"/>
<line x1="195" y1="405.5" x2="221.5" y2="405.5" stroke="#1a1aff" stroke-width="1.6"/>
<line x1="195" y1="415" x2="221.5" y2="415" stroke="#ff80ff" stroke-width="2.4"/>
<line x1="195" y1="418" x2="221.5" y2="418" stroke="#ff80ff" stroke-width="1.1"/>
<line x1="195" y1="426" x2="221.5" y2="426" stroke="#000" stroke-width="2"/>
<line x1="195" y1="427.8" x2="221.5" y2="427.8" stroke="#000" stroke-width="1.3"/>
<line x1="195" y1="429.3" x2="221.5" y2="429.3" stroke="#ff8000" stroke-width="1.2"/>
<line x1="195" y1="431.6" x2="221.5" y2="431.6" stroke="#ff8000" stroke-width="2"/>
<line x1="195" y1="440.2" x2="221.5" y2="440.2" stroke="#000" stroke-width="1.5"/>
<line x1="195" y1="453" x2="221.5" y2="453" stroke="#000" stroke-width="1.5"/>
<line x1="195" y1="455" x2="221.5" y2="455" stroke="#8000ff" stroke-width="2.2"/>
<line x1="195" y1="460.5" x2="221.5" y2="460.5" stroke="#000" stroke-width="1.5"/>
<line x1="195" y1="464.8" x2="221.5" y2="464.8" stroke="#000" stroke-width="1.5"/>
<line x1="195" y1="469.9" x2="221.5" y2="469.9" stroke="#119911" stroke-width="1.3"/>
<line x1="195" y1="473.2" x2="221.5" y2="473.2" stroke="#000" stroke-width="2.6"/>
<line x1="195" y1="479.5" x2="221.5" y2="479.5" stroke="#000" stroke-width="1.4"/>
<line x1="195" y1="480.8" x2="221.5" y2="480.8" stroke="#000" stroke-width="1.4"/>
<line x1="195" y1="482.0" x2="221.5" y2="482.0" stroke="#000" stroke-width="1.4"/>
<line x1="195" y1="483.2" x2="221.5" y2="483.2" stroke="#000" stroke-width="1.4"/>
<line x1="195" y1="488" x2="221.5" y2="488" stroke="#000" stroke-width="1.4"/>
<line x1="195" y1="489.2" x2="221.5" y2="489.2" stroke="#000" stroke-width="1.4"/>
<line x1="195" y1="490.5" x2="221.5" y2="490.5" stroke="#000" stroke-width="1.4"/>
<line x1="195" y1="491.8" x2="221.5" y2="491.8" stroke="#000" stroke-width="1.4"/>
<line x1="195" y1="493.0" x2="221.5" y2="493.0" stroke="#000" stroke-width="1.4"/>
<line x1="195" y1="494.2" x2="221.5" y2="494.2" stroke="#000" stroke-width="1.4"/>
<line x1="195" y1="498.6" x2="221.5" y2="498.6" stroke="#ff8000" stroke-width="1.3"/>
<line x1="195" y1="500.8" x2="221.5" y2="500.8" stroke="#603010" stroke-width="2"/>
<line x1="195" y1="505" x2="221.5" y2="505" stroke="#000" stroke-width="1.5"/>
<line x1="195" y1="509" x2="221.5" y2="509" stroke="#000" stroke-width="1.5"/>
<line x1="195" y1="511.6" x2="221.5" y2="511.6" stroke="#000" stroke-width="1.4"/>
<line x1="195" y1="512.9" x2="221.5" y2="512.9" stroke="#000" stroke-width="1.4"/>
<line x1="195" y1="521.7" x2="221.5" y2="521.7" stroke="#000" stroke-width="1.5"/>
<line x1="195" y1="524.6" x2="221.5" y2="524.6" stroke="#000" stroke-width="1.4"/>
<line x1="195" y1="525.9" x2="221.5" y2="525.9" stroke="#000" stroke-width="1.4"/>
<line x1="195" y1="527.1" x2="221.5" y2="527.1" stroke="#000" stroke-width="1.4"/>
<line x1="195" y1="528.4" x2="221.5" y2="528.4" stroke="#000" stroke-width="1.4"/>
<line x1="195" y1="529.6" x2="221.5" y2="529.6" stroke="#000" stroke-width="1.4"/>
<line x1="195" y1="545.6" x2="221.5" y2="545.6" stroke="#000" stroke-width="1.4"/>
<line x1="195" y1="546.9" x2="221.5" y2="546.9" stroke="#000" stroke-width="1.4"/>
<line x1="195" y1="548.1" x2="221.5" y2="548.1" stroke="#000" stroke-width="1.4"/>
<line x1="195" y1="552.8" x2="221.5" y2="552.8" stroke="#222" stroke-width="1.5"/>
<line x1="195" y1="558.2" x2="221.5" y2="558.2" stroke="#119911" stroke-width="1.3"/>
<line x1="195" y1="578" x2="221.5" y2="578" stroke="#222" stroke-width="1.5"/>
<line x1="246" y1="415" x2="272.5" y2="415" stroke="#ff80ff" stroke-width="2.4"/>
<line x1="246" y1="425.5" x2="272.5" y2="425.5" stroke="#8000ff" stroke-width="1.2"/>
<line x1="246" y1="426.7" x2="272.5" y2="426.7" stroke="#000" stroke-width="1.5"/>
<line x1="246" y1="428.4" x2="272.5" y2="428.4" stroke="#ff8000" stroke-width="1.2"/>
<line x1="246" y1="431.6" x2="272.5" y2="431.6" stroke="#ff8000" stroke-width="1.6"/>
<line x1="246" y1="436.6" x2="272.5" y2="436.6" stroke="#ff8000" stroke-width="1.2"/>
<line x1="246" y1="452.5" x2="272.5" y2="452.5" stroke="#000" stroke-width="2.2"/>
<line x1="246" y1="454.6" x2="272.5" y2="454.6" stroke="#8000ff" stroke-width="1.6"/>
<line x1="246" y1="459" x2="272.5" y2="459" stroke="#8000ff" stroke-width="2.2"/>
<line x1="246" y1="464.8" x2="272.5" y2="464.8" stroke="#000" stroke-width="1.5"/>
<line x1="246" y1="470" x2="272.5" y2="470" stroke="#000" stroke-width="1.5"/>
<line x1="246" y1="471.5" x2="272.5" y2="471.5" stroke="#119911" stroke-width="1.3"/>
<line x1="246" y1="473.7" x2="272.5" y2="473.7" stroke="#000" stroke-width="2.4"/>
<line x1="246" y1="479.5" x2="272.5" y2="479.5" stroke="#000" stroke-width="1.4"/>
<line x1="246" y1="480.8" x2="272.5" y2="480.8" stroke="#000" stroke-width="1.4"/>
<line x1="246" y1="482.0" x2="272.5" y2="482.0" stroke="#000" stroke-width="1.4"/>
<line x1="246" y1="483.2" x2="272.5" y2="483.2" stroke="#000" stroke-width="1.4"/>
<line x1="246" y1="488" x2="272.5" y2="488" stroke="#000" stroke-width="1.4"/>
<line x1="246" y1="489.2" x2="272.5" y2="489.2" stroke="#000" stroke-width="1.4"/>
<line x1="246" y1="490.5" x2="272.5" y2="490.5" stroke="#000" stroke-width="1.4"/>
<line x1="246" y1="491.8" x2="272.5" y2="491.8" stroke="#000" stroke-width="1.4"/>
<line x1="246" y1="493.0" x2="272.5" y2="493.0" stroke="#000" stroke-width="1.4"/>
<line x1="246" y1="494.2" x2="272.5" y2="494.2" stroke="#000" stroke-width="1.4"/>
<line x1="246" y1="496.4" x2="272.5" y2="496.4" stroke="#000" stroke-width="1.4"/>
<line x1="246" y1="497.6" x2="272.5" y2="497.6" stroke="#000" stroke-width="1.4"/>
<line x1="246" y1="498.9" x2="272.5" y2="498.9" stroke="#000" stroke-width="1.4"/>
<line x1="246" y1="501.5" x2="272.5" y2="501.5" stroke="#ff8000" stroke-width="2"/>
<line x1="246" y1="504.8" x2="272.5" y2="504.8" stroke="#000" stroke-width="1.5"/>
<line x1="246" y1="508.7" x2="272.5" y2="508.7" stroke="#000" stroke-width="1.5"/>
<line x1="246" y1="511.6" x2="272.5" y2="511.6" stroke="#000" stroke-width="1.4"/>
<line x1="246" y1="512.9" x2="272.5" y2="512.9" stroke="#000" stroke-width="1.4"/>
<line x1="246" y1="521.7" x2="272.5" y2="521.7" stroke="#000" stroke-width="1.5"/>
<line x1="246" y1="524" x2="272.5" y2="524" stroke="#000" stroke-width="1.4"/>
<line x1="246" y1="525.2" x2="272.5" y2="525.2" stroke="#000" stroke-width="1.4"/>
<line x1="246" y1="526.5" x2="272.5" y2="526.5" stroke="#000" stroke-width="1.4"/>
<line x1="246" y1="527.8" x2="272.5" y2="527.8" stroke="#000" stroke-width="1.4"/>
<line x1="246" y1="529.0" x2="272.5" y2="529.0" stroke="#000" stroke-width="1.4"/>
<line x1="246" y1="545" x2="272.5" y2="545" stroke="#000" stroke-width="1.4"/>
<line x1="246" y1="546.2" x2="272.5" y2="546.2" stroke="#000" stroke-width="1.4"/>
<line x1="246" y1="547.5" x2="272.5" y2="547.5" stroke="#000" stroke-width="1.4"/>
<line x1="246" y1="552" x2="272.5" y2="552" stroke="#000" stroke-width="1.5"/>
<line x1="246" y1="558.2" x2="272.5" y2="558.2" stroke="#119911" stroke-width="1.3"/>
<line x1="246" y1="578" x2="272.5" y2="578" stroke="#222" stroke-width="1.5"/>
<line x1="297" y1="409.6" x2="323" y2="409.6" stroke="#1a1aff" stroke-width="1.6"/>
<line x1="297" y1="416.9" x2="323" y2="416.9" stroke="#ff80ff" stroke-width="2.2"/>
<line x1="297" y1="419.6" x2="323" y2="419.6" stroke="#ff80ff" stroke-width="2"/>
<line x1="297" y1="427.6" x2="323" y2="427.6" stroke="#000" stroke-width="1.8"/>
<line x1="297" y1="430.8" x2="323" y2="430.8" stroke="#000" stroke-width="1.5"/>
<line x1="297" y1="433.8" x2="323" y2="433.8" stroke="#ff8000" stroke-width="1.8"/>
<line x1="297" y1="438.8" x2="323" y2="438.8" stroke="#555" stroke-width="1.3"/>
<line x1="297" y1="444.6" x2="323" y2="444.6" stroke="#333" stroke-width="1.3"/>
<line x1="297" y1="456.8" x2="323" y2="456.8" stroke="#8000ff" stroke-width="3"/>
<line x1="297" y1="462.4" x2="323" y2="462.4" stroke="#000" stroke-width="2.6"/>
<line x1="297" y1="467.4" x2="323" y2="467.4" stroke="#000" stroke-width="1.5"/>
<line x1="297" y1="471.3" x2="323" y2="471.3" stroke="#119911" stroke-width="1.3"/>
<line x1="297" y1="475.4" x2="323" y2="475.4" stroke="#000" stroke-width="3"/>
<line x1="297" y1="482.5" x2="323" y2="482.5" stroke="#000" stroke-width="1.5"/>
<line x1="297" y1="484.3" x2="323" y2="484.3" stroke="#444" stroke-width="1.3"/>
<line x1="297" y1="486" x2="323" y2="486" stroke="#000" stroke-width="1.6"/>
<line x1="297" y1="490.6" x2="323" y2="490.6" stroke="#000" stroke-width="1.4"/>
<line x1="297" y1="491.9" x2="323" y2="491.9" stroke="#000" stroke-width="1.4"/>
<line x1="297" y1="493.1" x2="323" y2="493.1" stroke="#000" stroke-width="1.4"/>
<line x1="297" y1="494.4" x2="323" y2="494.4" stroke="#000" stroke-width="1.4"/>
<line x1="297" y1="495.6" x2="323" y2="495.6" stroke="#000" stroke-width="1.4"/>
<line x1="297" y1="499" x2="323" y2="499" stroke="#555" stroke-width="1.2"/>
<line x1="297" y1="500.8" x2="323" y2="500.8" stroke="#ff8000" stroke-width="1.6"/>
<line x1="297" y1="502.3" x2="323" y2="502.3" stroke="#000" stroke-width="1.4"/>
<line x1="297" y1="503.6" x2="323" y2="503.6" stroke="#000" stroke-width="1.4"/>
<line x1="297" y1="504.8" x2="323" y2="504.8" stroke="#000" stroke-width="1.4"/>
<line x1="297" y1="506.1" x2="323" y2="506.1" stroke="#000" stroke-width="1.4"/>
<line x1="297" y1="507.3" x2="323" y2="507.3" stroke="#000" stroke-width="1.4"/>
<line x1="297" y1="510.8" x2="323" y2="510.8" stroke="#000" stroke-width="1.5"/>
<line x1="297" y1="514.6" x2="323" y2="514.6" stroke="#000" stroke-width="2.6"/>
<line x1="297" y1="524" x2="323" y2="524" stroke="#000" stroke-width="1.5"/>
<line x1="297" y1="527" x2="323" y2="527" stroke="#555" stroke-width="1.3"/>
<line x1="297" y1="528.7" x2="323" y2="528.7" stroke="#333" stroke-width="1.3"/>
<line x1="297" y1="530.6" x2="323" y2="530.6" stroke="#000" stroke-width="2.2"/>
<line x1="297" y1="548.2" x2="323" y2="548.2" stroke="#000" stroke-width="1.4"/>
<line x1="297" y1="549.5" x2="323" y2="549.5" stroke="#000" stroke-width="1.4"/>
<line x1="297" y1="550.7" x2="323" y2="550.7" stroke="#000" stroke-width="1.4"/>
<line x1="297" y1="555.6" x2="323" y2="555.6" stroke="#000" stroke-width="1.5"/>
<line x1="297" y1="561" x2="323" y2="561" stroke="#119911" stroke-width="1.5"/>
<line x1="348" y1="417.2" x2="374" y2="417.2" stroke="#ff80ff" stroke-width="2.8"/>
<line x1="348" y1="427.2" x2="374" y2="427.2" stroke="#000" stroke-width="1.5"/>
<line x1="348" y1="429.1" x2="374" y2="429.1" stroke="#ff8000" stroke-width="1.5"/>
<line x1="348" y1="430.8" x2="374" y2="430.8" stroke="#000" stroke-width="1.5"/>
<line x1="348" y1="434" x2="374" y2="434" stroke="#ff8000" stroke-width="1.8"/>
<line x1="348" y1="437" x2="374" y2="437" stroke="#555" stroke-width="1.3"/>
<line x1="348" y1="441.2" x2="374" y2="441.2" stroke="#333" stroke-width="1.3"/>
<line x1="348" y1="456.8" x2="374" y2="456.8" stroke="#8000ff" stroke-width="3"/>
<line x1="348" y1="462" x2="374" y2="462" stroke="#000" stroke-width="2.6"/>
<line x1="348" y1="467.4" x2="374" y2="467.4" stroke="#000" stroke-width="1.5"/>
<line x1="348" y1="471.3" x2="374" y2="471.3" stroke="#119911" stroke-width="1.3"/>
<line x1="348" y1="475" x2="374" y2="475" stroke="#000" stroke-width="2.8"/>
<line x1="348" y1="482.6" x2="374" y2="482.6" stroke="#000" stroke-width="1.4"/>
<line x1="348" y1="484.4" x2="374" y2="484.4" stroke="#444" stroke-width="1.3"/>
<line x1="348" y1="486.2" x2="374" y2="486.2" stroke="#000" stroke-width="1.6"/>
<line x1="348" y1="490.6" x2="374" y2="490.6" stroke="#000" stroke-width="1.4"/>
<line x1="348" y1="491.9" x2="374" y2="491.9" stroke="#000" stroke-width="1.4"/>
<line x1="348" y1="493.1" x2="374" y2="493.1" stroke="#000" stroke-width="1.4"/>
<line x1="348" y1="494.4" x2="374" y2="494.4" stroke="#000" stroke-width="1.4"/>
<line x1="348" y1="495.6" x2="374" y2="495.6" stroke="#000" stroke-width="1.4"/>
<line x1="348" y1="498.8" x2="374" y2="498.8" stroke="#555" stroke-width="1.2"/>
<line x1="348" y1="500.8" x2="374" y2="500.8" stroke="#ff8000" stroke-width="1.8"/>
<line x1="348" y1="502.8" x2="374" y2="502.8" stroke="#000" stroke-width="1.4"/>
<line x1="348" y1="504.3" x2="374" y2="504.3" stroke="#ff8000" stroke-width="1.4"/>
<line x1="348" y1="505.8" x2="374" y2="505.8" stroke="#000" stroke-width="1.4"/>
<line x1="348" y1="507.1" x2="374" y2="507.1" stroke="#000" stroke-width="1.4"/>
<line x1="348" y1="510.8" x2="374" y2="510.8" stroke="#000" stroke-width="1.5"/>
<line x1="348" y1="514.6" x2="374" y2="514.6" stroke="#000" stroke-width="2.6"/>
<line x1="348" y1="524.2" x2="374" y2="524.2" stroke="#000" stroke-width="1.5"/>
<line x1="348" y1="527" x2="374" y2="527" stroke="#333" stroke-width="1.4"/>
<line x1="348" y1="528.2" x2="374" y2="528.2" stroke="#333" stroke-width="1.4"/>
<line x1="348" y1="529.5" x2="374" y2="529.5" stroke="#333" stroke-width="1.4"/>
<line x1="348" y1="530.8" x2="374" y2="530.8" stroke="#333" stroke-width="1.4"/>
<line x1="348" y1="548.2" x2="374" y2="548.2" stroke="#000" stroke-width="1.4"/>
<line x1="348" y1="549.5" x2="374" y2="549.5" stroke="#000" stroke-width="1.4"/>
<line x1="348" y1="550.7" x2="374" y2="550.7" stroke="#000" stroke-width="1.4"/>
<line x1="348" y1="555.2" x2="374" y2="555.2" stroke="#000" stroke-width="1.5"/>
<line x1="348" y1="561" x2="374" y2="561" stroke="#119911" stroke-width="1.5"/>
<text x="115" y="613" font-size="17" fill="#000" text-anchor="start" font-family="Liberation Serif" font-weight="bold" stroke="#000" stroke-width="0.35" >PAl<tspan font-size="11" dy="3">12</tspan></text>
<text x="177" y="614" font-size="17" fill="#000" text-anchor="start" font-family="Liberation Serif" font-weight="bold" stroke="#000" stroke-width="0.35" >PAl<tspan font-size="11" dy="3">12</tspan><tspan dy="-3">B(C</tspan><tspan font-size="11" dy="3">6</tspan><tspan dy="-3">F</tspan><tspan font-size="11" dy="3">5</tspan><tspan dy="-3">)</tspan><tspan font-size="11" dy="3">3</tspan></text>
<text x="288" y="614" font-size="17" fill="#000" text-anchor="start" font-family="Liberation Serif" font-weight="bold" stroke="#000" stroke-width="0.35" >PAl<tspan font-size="11" dy="3">12</tspan><tspan dy="-3">[B(C</tspan><tspan font-size="11" dy="3">6</tspan><tspan dy="-3">F</tspan><tspan font-size="11" dy="3">5</tspan><tspan dy="-3">)</tspan><tspan font-size="11" dy="3">3</tspan><tspan dy="-3">]</tspan><tspan font-size="11" dy="3">2</tspan></text>
<line x1="383.6" y1="512.5" x2="413.3" y2="512.5" stroke="#1a1aff" stroke-width="1.8"/>
<text x="416.5" y="517.1" font-size="13.5" fill="#000" text-anchor="start" font-family="Liberation Serif" font-weight="bold" stroke="#000" stroke-width="0.3" >1G</text>
<line x1="383.6" y1="528.2" x2="413.3" y2="528.2" stroke="#ff80ff" stroke-width="1.8"/>
<text x="416.5" y="532.8000000000001" font-size="13.5" fill="#000" text-anchor="start" font-family="Liberation Serif" font-weight="bold" stroke="#000" stroke-width="0.3" >1F</text>
<line x1="383.6" y1="543.5" x2="413.3" y2="543.5" stroke="#8000ff" stroke-width="1.8"/>
<text x="416.5" y="548.1" font-size="13.5" fill="#000" text-anchor="start" font-family="Liberation Serif" font-weight="bold" stroke="#000" stroke-width="0.3" >1D</text>
<line x1="383.6" y1="559.5" x2="413.3" y2="559.5" stroke="#ff8000" stroke-width="1.8"/>
<text x="416.5" y="564.1" font-size="13.5" fill="#000" text-anchor="start" font-family="Liberation Serif" font-weight="bold" stroke="#000" stroke-width="0.3" >1P/2P</text>
<line x1="383.6" y1="574.8" x2="413.3" y2="574.8" stroke="#119911" stroke-width="1.8"/>
<text x="416.5" y="579.4" font-size="13.5" fill="#000" text-anchor="start" font-family="Liberation Serif" font-weight="bold" stroke="#000" stroke-width="0.3" >1S/2S</text>
<text x="427" y="300" font-size="31" fill="#000" text-anchor="start" font-family="Liberation Serif" font-weight="bold" stroke="#000" stroke-width="0.6" >c</text>
<ellipse cx="465" cy="289" rx="6.8" ry="6.8" fill="#66da66"/>
<ellipse cx="498" cy="289" rx="6.8" ry="6.8" fill="#66da66"/>
<ellipse cx="474.5" cy="289" rx="3.2" ry="10" fill="#6090e8"/>
<ellipse cx="489.3" cy="289" rx="3.2" ry="10" fill="#6090e8"/>
<ellipse cx="482" cy="289" rx="5" ry="8.5" fill="#66da66"/>
<path d="M488,289h0 M485,295.9h0 M479,295.9h0 M476,289h0 M479,282.1h0 M485,282.1h0" stroke="#c07a6a" stroke-width="2.3" stroke-linecap="round"/>
<use href="#L" transform="translate(587.7,287) scale(1.056,1.044)"/>
<g opacity="0.95"><circle cx="592.1" cy="295.9" r="2.2" fill="#66da66"/><circle cx="596.1" cy="294.5" r="1.9" fill="#66da66"/><circle cx="600.7" cy="318.8" r="2.3" fill="#66da66"/><circle cx="594" cy="297.3" r="2.2" fill="#66da66"/><circle cx="595.7" cy="315.9" r="1.9" fill="#6090e8"/><circle cx="595.3" cy="288.4" r="1.8" fill="#6090e8"/><circle cx="596" cy="288.6" r="2.1" fill="#6090e8"/><circle cx="595.4" cy="310.3" r="2.1" fill="#66da66"/><circle cx="593.1" cy="290.8" r="2" fill="#6090e8"/><circle cx="592.9" cy="316.8" r="2.1" fill="#6090e8"/><circle cx="600.2" cy="314.8" r="2.4" fill="#6090e8"/><circle cx="600.2" cy="319.1" r="1.8" fill="#6090e8"/><circle cx="590.2" cy="290.2" r="1.7" fill="#6090e8"/><circle cx="597.9" cy="307.8" r="2.4" fill="#6090e8"/><circle cx="592.4" cy="320.7" r="2.3" fill="#6090e8"/><circle cx="595" cy="312" r="1.8" fill="#6090e8"/><circle cx="602.8" cy="309.9" r="1.8" fill="#66da66"/><circle cx="598" cy="320.8" r="2.3" fill="#66da66"/><circle cx="596.3" cy="301.5" r="2.1" fill="#66da66"/><circle cx="600.6" cy="313.7" r="2" fill="#66da66"/><circle cx="590.9" cy="294" r="2.1" fill="#6090e8"/><circle cx="602.6" cy="312.6" r="1.8" fill="#66da66"/><circle cx="591.1" cy="294.3" r="2.3" fill="#66da66"/><circle cx="598.7" cy="294.5" r="2.2" fill="#66da66"/><circle cx="598.7" cy="288.5" r="2.1" fill="#6090e8"/><circle cx="595.8" cy="296.7" r="2" fill="#66da66"/><circle cx="592.5" cy="308.6" r="1.9" fill="#66da66"/><circle cx="596" cy="307.9" r="2.2" fill="#6090e8"/><circle cx="599.9" cy="290.6" r="1.7" fill="#66da66"/><circle cx="598" cy="303.3" r="2.1" fill="#6090e8"/><circle cx="592.3" cy="290.4" r="1.9" fill="#6090e8"/><circle cx="599.6" cy="292" r="2" fill="#66da66"/><circle cx="594.2" cy="300.5" r="2.4" fill="#6090e8"/><circle cx="594.1" cy="305.4" r="2.2" fill="#6090e8"/><circle cx="595.5" cy="300.3" r="1.7" fill="#66da66"/><circle cx="596.7" cy="299.8" r="1.9" fill="#6090e8"/><circle cx="598.6" cy="291.3" r="1.8" fill="#6090e8"/><circle cx="598.5" cy="314.2" r="2.4" fill="#66da66"/><circle cx="600" cy="312.8" r="2.1" fill="#66da66"/><circle cx="595.3" cy="313.6" r="2.2" fill="#66da66"/><circle cx="602.4" cy="313.9" r="1.7" fill="#66da66"/><circle cx="599.5" cy="313.2" r="1.9" fill="#66da66"/><circle cx="600.7" cy="317.3" r="2.2" fill="#6090e8"/><circle cx="594.1" cy="314.4" r="2.3" fill="#66da66"/><circle cx="601.9" cy="316.9" r="2.5" fill="#6090e8"/><circle cx="598.4" cy="310.8" r="2.3" fill="#66da66"/><circle cx="591.7" cy="293.7" r="2.5" fill="#6090e8"/><circle cx="595" cy="296.5" r="2.4" fill="#6090e8"/><circle cx="598.6" cy="299.9" r="2.4" fill="#66da66"/><circle cx="599" cy="308.7" r="2" fill="#6090e8"/><circle cx="594.4" cy="301" r="1.8" fill="#6090e8"/><circle cx="598.2" cy="319.7" r="2.4" fill="#66da66"/><circle cx="590.9" cy="290.2" r="2.1" fill="#66da66"/><circle cx="595.5" cy="319.6" r="2" fill="#6090e8"/><circle cx="597.6" cy="314" r="2" fill="#66da66"/><circle cx="596" cy="316" r="2.1" fill="#6090e8"/><circle cx="603.1" cy="315.8" r="2.3" fill="#6090e8"/><circle cx="596.9" cy="303.1" r="1.9" fill="#66da66"/><circle cx="597.8" cy="310.8" r="2.4" fill="#66da66"/><circle cx="597.8" cy="310.8" r="1.9" fill="#6090e8"/><circle cx="598.9" cy="304.9" r="2.3" fill="#6090e8"/><circle cx="593.7" cy="297.1" r="2.4" fill="#66da66"/><circle cx="598.5" cy="309" r="1.8" fill="#66da66"/><circle cx="596.2" cy="305.5" r="2.1" fill="#6090e8"/><circle cx="592.8" cy="318.6" r="1.8" fill="#6090e8"/><circle cx="599.6" cy="292.3" r="2.3" fill="#6090e8"/></g>
<ellipse cx="565.2" cy="303.5" rx="4.8" ry="7.5" fill="#66da66"/>
<ellipse cx="572.5" cy="305" rx="3" ry="9.5" fill="#6090e8"/>
<ellipse cx="584.5" cy="305" rx="3.2" ry="9.5" fill="#6090e8"/>
<ellipse cx="578.5" cy="305" rx="5" ry="8" fill="#66da66"/>
<path d="M584.5,305h0 M581.5,311.9h0 M575.5,311.9h0 M572.5,305h0 M575.5,298.1h0 M581.5,298.1h0" stroke="#c07a6a" stroke-width="2.3" stroke-linecap="round"/>
<use href="#L" transform="translate(655,263) scale(1.125,1.029)"/>
<g opacity="0.95"><circle cx="664.8" cy="279.5" r="2.2" fill="#6090e8"/><circle cx="657" cy="283.4" r="1.9" fill="#6090e8"/><circle cx="662.4" cy="295.2" r="2.3" fill="#6090e8"/><circle cx="661" cy="279.9" r="2" fill="#6090e8"/><circle cx="669.9" cy="266.7" r="2" fill="#66da66"/><circle cx="657.7" cy="286.4" r="1.9" fill="#66da66"/><circle cx="660.6" cy="269.6" r="1.9" fill="#6090e8"/><circle cx="659.3" cy="291" r="1.7" fill="#66da66"/><circle cx="662.5" cy="270.5" r="2" fill="#6090e8"/><circle cx="668.8" cy="294.7" r="2.4" fill="#6090e8"/><circle cx="666.4" cy="296.2" r="1.7" fill="#66da66"/><circle cx="656.1" cy="281.8" r="2" fill="#66da66"/><circle cx="664.9" cy="270.2" r="1.9" fill="#66da66"/><circle cx="662.1" cy="271.7" r="2.3" fill="#66da66"/><circle cx="669.5" cy="265.3" r="2.2" fill="#6090e8"/><circle cx="670.5" cy="294.6" r="2" fill="#6090e8"/><circle cx="664.1" cy="285.9" r="2" fill="#6090e8"/><circle cx="669" cy="267.4" r="1.7" fill="#6090e8"/><circle cx="662.7" cy="289.8" r="1.9" fill="#6090e8"/><circle cx="658.1" cy="284.1" r="2.5" fill="#66da66"/><circle cx="668.1" cy="272.8" r="1.7" fill="#66da66"/><circle cx="657.3" cy="286.2" r="2.4" fill="#66da66"/><circle cx="662.7" cy="267" r="2.1" fill="#6090e8"/><circle cx="665.9" cy="289.6" r="2" fill="#66da66"/><circle cx="659.8" cy="269.3" r="2.4" fill="#6090e8"/><circle cx="665.5" cy="287.5" r="2.1" fill="#66da66"/><circle cx="659.8" cy="289" r="1.7" fill="#66da66"/><circle cx="665.6" cy="293.7" r="2.1" fill="#6090e8"/><circle cx="664.4" cy="274.5" r="2.4" fill="#6090e8"/><circle cx="663.6" cy="266.1" r="1.7" fill="#66da66"/><circle cx="659.6" cy="283.6" r="1.8" fill="#6090e8"/><circle cx="661.5" cy="288.5" r="1.8" fill="#66da66"/><circle cx="667.4" cy="270.6" r="2" fill="#6090e8"/><circle cx="660.8" cy="289.3" r="1.9" fill="#6090e8"/><circle cx="661.9" cy="278.5" r="1.9" fill="#6090e8"/><circle cx="660.6" cy="271.7" r="2.2" fill="#66da66"/><circle cx="661.8" cy="295" r="1.8" fill="#6090e8"/><circle cx="670.1" cy="295.6" r="1.8" fill="#66da66"/><circle cx="664.7" cy="273.1" r="1.8" fill="#66da66"/><circle cx="668.2" cy="274.5" r="2.1" fill="#6090e8"/><circle cx="667" cy="268.2" r="2.2" fill="#66da66"/><circle cx="667.4" cy="286.9" r="1.9" fill="#66da66"/><circle cx="670.3" cy="266.5" r="2.1" fill="#6090e8"/><circle cx="670.2" cy="265.7" r="2.1" fill="#6090e8"/><circle cx="668" cy="296" r="2.4" fill="#66da66"/><circle cx="659.8" cy="283" r="2.4" fill="#6090e8"/><circle cx="656.4" cy="279.7" r="2.5" fill="#6090e8"/><circle cx="661.9" cy="272.2" r="1.8" fill="#6090e8"/><circle cx="666.2" cy="289" r="2" fill="#66da66"/><circle cx="667.6" cy="285.8" r="1.9" fill="#66da66"/><circle cx="658" cy="274" r="1.7" fill="#6090e8"/><circle cx="657.8" cy="277.7" r="2" fill="#6090e8"/><circle cx="667.9" cy="288.5" r="2.3" fill="#66da66"/><circle cx="668.7" cy="267.7" r="1.9" fill="#66da66"/><circle cx="663.4" cy="265.4" r="2" fill="#6090e8"/><circle cx="665.8" cy="282.5" r="2.1" fill="#6090e8"/><circle cx="670.8" cy="265.3" r="1.9" fill="#6090e8"/><circle cx="657.4" cy="280.3" r="2.2" fill="#6090e8"/><circle cx="659.2" cy="278.6" r="2.1" fill="#66da66"/><circle cx="657.7" cy="278.6" r="2" fill="#6090e8"/><circle cx="665.9" cy="266.5" r="1.7" fill="#6090e8"/><circle cx="660.9" cy="281.1" r="2.5" fill="#6090e8"/><circle cx="658.5" cy="291.1" r="2.3" fill="#6090e8"/><circle cx="660.6" cy="288" r="1.9" fill="#6090e8"/><circle cx="668.1" cy="290.5" r="2.3" fill="#66da66"/><circle cx="666.8" cy="292.5" r="2.3" fill="#6090e8"/><circle cx="661.9" cy="286.4" r="2.1" fill="#66da66"/><circle cx="667.4" cy="266.4" r="2.3" fill="#66da66"/><circle cx="668.5" cy="289.2" r="1.9" fill="#66da66"/><circle cx="667" cy="268" r="2.2" fill="#66da66"/></g>
<ellipse cx="470" cy="337" rx="5" ry="5.5" fill="#6090e8"/>
<ellipse cx="497" cy="337" rx="5" ry="5.5" fill="#66da66"/>
<ellipse cx="478.3" cy="337.5" rx="4.7" ry="13.5" fill="#66da66"/>
<ellipse cx="489.8" cy="337.5" rx="4.8" ry="13.5" fill="#6090e8"/>
<path d="M488,337.5h0 M486,345.3h0 M482,345.3h0 M480,337.5h0 M482,329.7h0 M486,329.7h0" stroke="#c07a6a" stroke-width="2.3" stroke-linecap="round"/>
<use href="#L" transform="translate(591.7,330.6) scale(0.894,1.012)"/>
<g opacity="0.95"><circle cx="603.4" cy="341.5" r="1.9" fill="#6090e8"/><circle cx="595.3" cy="354.1" r="2.3" fill="#66da66"/><circle cx="603.6" cy="336.9" r="2.2" fill="#66da66"/><circle cx="598.1" cy="361" r="2.2" fill="#66da66"/><circle cx="594.3" cy="342.8" r="2" fill="#66da66"/><circle cx="595" cy="343.4" r="2.5" fill="#6090e8"/><circle cx="600.5" cy="347.5" r="1.8" fill="#6090e8"/><circle cx="599.3" cy="349.7" r="1.7" fill="#6090e8"/><circle cx="597.2" cy="360.8" r="2.4" fill="#6090e8"/><circle cx="602.9" cy="339.6" r="2.2" fill="#66da66"/><circle cx="593.5" cy="356.6" r="2.1" fill="#66da66"/><circle cx="593.6" cy="348.3" r="1.9" fill="#6090e8"/><circle cx="602.2" cy="345" r="2.3" fill="#6090e8"/><circle cx="601.7" cy="344.9" r="1.8" fill="#66da66"/><circle cx="599.8" cy="335" r="2.3" fill="#66da66"/><circle cx="597.6" cy="346.6" r="1.9" fill="#6090e8"/><circle cx="598.9" cy="357.7" r="1.8" fill="#66da66"/><circle cx="596.4" cy="363.2" r="1.8" fill="#6090e8"/><circle cx="601.6" cy="353" r="1.9" fill="#66da66"/><circle cx="598" cy="361.1" r="2.3" fill="#66da66"/><circle cx="600.7" cy="345.6" r="2.4" fill="#6090e8"/><circle cx="593.4" cy="349.1" r="2.4" fill="#6090e8"/><circle cx="597" cy="337.8" r="2.4" fill="#66da66"/><circle cx="601.4" cy="344.8" r="2.2" fill="#6090e8"/><circle cx="602.2" cy="345.2" r="1.9" fill="#6090e8"/><circle cx="597.6" cy="348.6" r="1.8" fill="#6090e8"/><circle cx="596.5" cy="346" r="2.5" fill="#6090e8"/><circle cx="596" cy="356.8" r="2.2" fill="#6090e8"/><circle cx="598.5" cy="356.4" r="2.4" fill="#66da66"/><circle cx="599.1" cy="355.6" r="2.2" fill="#66da66"/><circle cx="596.1" cy="352.7" r="2.2" fill="#66da66"/><circle cx="598.3" cy="352.1" r="2.5" fill="#66da66"/><circle cx="595.1" cy="362.8" r="2.4" fill="#66da66"/><circle cx="601.3" cy="333.5" r="1.7" fill="#6090e8"/><circle cx="600.7" cy="349.5" r="2.4" fill="#6090e8"/><circle cx="598.3" cy="351.5" r="2.4" fill="#6090e8"/><circle cx="597.6" cy="351.2" r="2.5" fill="#6090e8"/><circle cx="595.2" cy="350.3" r="2" fill="#6090e8"/><circle cx="594.4" cy="356.5" r="2.1" fill="#6090e8"/><circle cx="603.4" cy="339" r="2.4" fill="#66da66"/><circle cx="593.9" cy="356" r="2" fill="#66da66"/><circle cx="601.4" cy="334.9" r="2.4" fill="#66da66"/><circle cx="595.2" cy="359.5" r="1.9" fill="#6090e8"/><circle cx="602.4" cy="334.5" r="1.7" fill="#6090e8"/><circle cx="602.1" cy="359.2" r="2.3" fill="#6090e8"/><circle cx="604" cy="332" r="1.9" fill="#66da66"/><circle cx="595.7" cy="356.4" r="1.7" fill="#66da66"/><circle cx="600.4" cy="346.9" r="2.3" fill="#66da66"/><circle cx="599.1" cy="339.5" r="2.3" fill="#66da66"/><circle cx="603.6" cy="334.5" r="1.8" fill="#6090e8"/><circle cx="595.7" cy="361.4" r="2" fill="#66da66"/><circle cx="600.9" cy="362.2" r="2.1" fill="#66da66"/><circle cx="602.6" cy="332.5" r="2" fill="#6090e8"/><circle cx="598.9" cy="358.7" r="2" fill="#6090e8"/></g>
<ellipse cx="568" cy="347.5" rx="4.5" ry="6.5" fill="#66da66"/>
<ellipse cx="575" cy="347" rx="4" ry="12" fill="#6090e8"/>
<ellipse cx="583.7" cy="347" rx="4" ry="12" fill="#66da66"/>
<ellipse cx="590" cy="347" rx="3.5" ry="6" fill="#6090e8"/>
<path d="M582.5,347h0 M580.8,353.9h0 M577.2,353.9h0 M575.5,347h0 M577.2,340.1h0 M580.8,340.1h0" stroke="#c07a6a" stroke-width="2.3" stroke-linecap="round"/>
<ellipse cx="474" cy="385.5" rx="7.5" ry="9.5" fill="#66da66"/>
<ellipse cx="495" cy="382.5" rx="7.5" ry="10.5" fill="#6090e8"/>
<ellipse cx="485" cy="385" rx="6" ry="8" fill="#66da66"/>
<path d="M492,385h0 M488.5,391.9h0 M481.5,391.9h0 M478,385h0 M481.5,378.1h0 M488.5,378.1h0" stroke="#c07a6a" stroke-width="2.3" stroke-linecap="round"/>
<use href="#L" transform="translate(580,379) scale(1.125,0.941)"/>
<g opacity="0.95"><circle cx="591" cy="384.5" r="2.3" fill="#6090e8"/><circle cx="584.6" cy="385.3" r="1.9" fill="#66da66"/><circle cx="586" cy="396.9" r="2.3" fill="#6090e8"/><circle cx="584.1" cy="388.8" r="2.1" fill="#66da66"/><circle cx="591.9" cy="400.9" r="1.9" fill="#66da66"/><circle cx="586.3" cy="397.7" r="2.4" fill="#66da66"/><circle cx="582.8" cy="391.1" r="2.3" fill="#66da66"/><circle cx="587.7" cy="400.5" r="2.3" fill="#66da66"/><circle cx="594.5" cy="409.3" r="1.9" fill="#6090e8"/><circle cx="589.1" cy="392.1" r="2.4" fill="#66da66"/><circle cx="585.4" cy="399.5" r="2.2" fill="#6090e8"/><circle cx="591.1" cy="391.7" r="2.2" fill="#6090e8"/><circle cx="589" cy="387.2" r="2.4" fill="#66da66"/><circle cx="583.6" cy="400.3" r="2.5" fill="#6090e8"/><circle cx="594.1" cy="382" r="2.2" fill="#66da66"/><circle cx="587.9" cy="403.6" r="1.7" fill="#66da66"/><circle cx="584.9" cy="406.6" r="2.2" fill="#6090e8"/><circle cx="586.4" cy="392.6" r="2.2" fill="#66da66"/><circle cx="590.4" cy="383.7" r="1.9" fill="#6090e8"/><circle cx="584.5" cy="402.3" r="2" fill="#66da66"/><circle cx="593" cy="387.3" r="2.4" fill="#6090e8"/><circle cx="590.9" cy="402.9" r="1.8" fill="#6090e8"/><circle cx="592.9" cy="386.9" r="1.9" fill="#6090e8"/><circle cx="581.3" cy="392.9" r="1.8" fill="#6090e8"/><circle cx="581.7" cy="390.2" r="2.2" fill="#66da66"/><circle cx="585.6" cy="393.6" r="2.2" fill="#66da66"/><circle cx="585.2" cy="402.4" r="2.2" fill="#6090e8"/><circle cx="589.9" cy="399.4" r="2" fill="#6090e8"/><circle cx="594.8" cy="403.3" r="2.5" fill="#6090e8"/><circle cx="592.5" cy="393.8" r="2.4" fill="#66da66"/><circle cx="586" cy="404" r="2.4" fill="#66da66"/><circle cx="592.1" cy="391.3" r="1.9" fill="#66da66"/><circle cx="588.9" cy="403.4" r="1.8" fill="#6090e8"/><circle cx="592.8" cy="399.6" r="1.9" fill="#66da66"/><circle cx="587.6" cy="396.2" r="1.9" fill="#6090e8"/><circle cx="590.1" cy="389.6" r="1.9" fill="#66da66"/><circle cx="590.9" cy="380.8" r="2.5" fill="#6090e8"/><circle cx="582.1" cy="398.9" r="2.2" fill="#66da66"/><circle cx="589" cy="409.2" r="1.7" fill="#66da66"/><circle cx="592.3" cy="396.5" r="1.8" fill="#6090e8"/><circle cx="591.3" cy="408.8" r="2.3" fill="#6090e8"/><circle cx="592" cy="393.3" r="2" fill="#6090e8"/><circle cx="591.3" cy="389.1" r="2.1" fill="#6090e8"/><circle cx="588.8" cy="398.8" r="2.3" fill="#6090e8"/><circle cx="592.1" cy="397.6" r="1.7" fill="#6090e8"/><circle cx="592.9" cy="403.1" r="2.4" fill="#6090e8"/><circle cx="584.2" cy="388.9" r="2.2" fill="#66da66"/><circle cx="587" cy="407.1" r="2.2" fill="#6090e8"/><circle cx="595.2" cy="382.1" r="2.1" fill="#66da66"/><circle cx="583" cy="396.4" r="2.3" fill="#6090e8"/><circle cx="585.2" cy="380.6" r="2.1" fill="#6090e8"/><circle cx="585.3" cy="402.9" r="2.4" fill="#6090e8"/><circle cx="589.1" cy="404.9" r="1.9" fill="#66da66"/><circle cx="591.7" cy="400.9" r="2.1" fill="#66da66"/><circle cx="585.7" cy="407.9" r="2.1" fill="#6090e8"/><circle cx="585.6" cy="400" r="2.2" fill="#6090e8"/><circle cx="584.5" cy="388" r="1.9" fill="#66da66"/><circle cx="594.5" cy="384.5" r="1.7" fill="#6090e8"/><circle cx="584.8" cy="382.9" r="2.1" fill="#66da66"/><circle cx="590.9" cy="389.8" r="2.4" fill="#66da66"/><circle cx="587.9" cy="383.9" r="1.9" fill="#6090e8"/><circle cx="592.2" cy="406.7" r="1.7" fill="#6090e8"/><circle cx="584.1" cy="390.8" r="2" fill="#66da66"/><circle cx="593.5" cy="406.9" r="2.1" fill="#6090e8"/></g>
<ellipse cx="565" cy="397" rx="4.5" ry="6" fill="#66da66"/>
<polygon points="581.2,397 578,404.8 571.5,404.8 568.2,397 571.5,389.2 578,389.2" fill="#66da66" stroke="#3fb03f" stroke-width="1"/>
<path d="M581.2,397h0 M578,404.8h0 M571.5,404.8h0 M568.2,397h0 M571.5,389.2h0 M578,389.2h0" stroke="#c07a6a" stroke-width="2.3" stroke-linecap="round"/>
<ellipse cx="581" cy="397" rx="4" ry="7" fill="#6090e8" fill-opacity="0.9"/>
<use href="#L" transform="translate(654,359.4) scale(0.875,1.047)"/>
<g opacity="0.95"><circle cx="659.6" cy="389.7" r="1.7" fill="#6090e8"/><circle cx="663.5" cy="381.2" r="2.5" fill="#66da66"/><circle cx="660.5" cy="368.3" r="1.8" fill="#6090e8"/><circle cx="666" cy="371.1" r="2" fill="#6090e8"/><circle cx="663" cy="385" r="2.2" fill="#66da66"/><circle cx="657.4" cy="393" r="2.4" fill="#6090e8"/><circle cx="662" cy="391.7" r="1.9" fill="#6090e8"/><circle cx="663.9" cy="369.8" r="1.9" fill="#6090e8"/><circle cx="662.5" cy="384.8" r="2.1" fill="#66da66"/><circle cx="660.7" cy="368.7" r="1.9" fill="#66da66"/><circle cx="664.3" cy="361.4" r="1.8" fill="#6090e8"/><circle cx="662.5" cy="380.8" r="2.4" fill="#6090e8"/><circle cx="660.7" cy="374.3" r="1.7" fill="#66da66"/><circle cx="662.3" cy="383.7" r="2" fill="#6090e8"/><circle cx="660.7" cy="393.3" r="2.2" fill="#6090e8"/><circle cx="660.7" cy="375.1" r="2" fill="#6090e8"/><circle cx="661.6" cy="392.1" r="1.9" fill="#6090e8"/><circle cx="661.8" cy="375.4" r="2.1" fill="#66da66"/><circle cx="659.5" cy="369.6" r="1.8" fill="#6090e8"/><circle cx="665.2" cy="368.6" r="2.4" fill="#66da66"/><circle cx="657.8" cy="391" r="2.1" fill="#66da66"/><circle cx="662.4" cy="386" r="2.4" fill="#66da66"/><circle cx="662.4" cy="383.6" r="1.7" fill="#66da66"/><circle cx="664.2" cy="393.3" r="2.5" fill="#6090e8"/><circle cx="659.6" cy="375" r="1.9" fill="#66da66"/><circle cx="659.8" cy="371.1" r="2.2" fill="#6090e8"/><circle cx="663.5" cy="370.1" r="2" fill="#6090e8"/><circle cx="661" cy="361.9" r="2" fill="#66da66"/><circle cx="660.4" cy="381" r="2" fill="#6090e8"/><circle cx="662.8" cy="369.5" r="2.2" fill="#66da66"/><circle cx="662.2" cy="368.9" r="2" fill="#6090e8"/><circle cx="663" cy="367.1" r="2.2" fill="#6090e8"/><circle cx="657.4" cy="386.4" r="2.2" fill="#66da66"/><circle cx="663" cy="384.9" r="1.7" fill="#66da66"/><circle cx="658.2" cy="388.9" r="2.4" fill="#6090e8"/><circle cx="658.1" cy="392.1" r="2" fill="#66da66"/><circle cx="661.5" cy="363.6" r="2" fill="#6090e8"/><circle cx="657.5" cy="387.6" r="1.8" fill="#6090e8"/><circle cx="656.5" cy="384.6" r="2.1" fill="#6090e8"/><circle cx="657.4" cy="375.3" r="1.9" fill="#66da66"/><circle cx="659.1" cy="383.8" r="1.8" fill="#66da66"/><circle cx="656.8" cy="383.8" r="2.5" fill="#66da66"/><circle cx="657.8" cy="378.4" r="1.9" fill="#6090e8"/><circle cx="658.4" cy="391.9" r="2.4" fill="#66da66"/><circle cx="663.1" cy="373.8" r="2.1" fill="#6090e8"/><circle cx="659.3" cy="382" r="2.2" fill="#6090e8"/><circle cx="658.4" cy="367.1" r="2" fill="#6090e8"/><circle cx="664.7" cy="392.7" r="2.3" fill="#6090e8"/><circle cx="658.9" cy="386.5" r="1.8" fill="#66da66"/><circle cx="663" cy="369.3" r="2" fill="#6090e8"/><circle cx="661.7" cy="368" r="2.3" fill="#6090e8"/><circle cx="659" cy="383.8" r="2.3" fill="#6090e8"/><circle cx="662" cy="367.1" r="2" fill="#66da66"/><circle cx="663.5" cy="370.3" r="1.8" fill="#6090e8"/><circle cx="662.9" cy="367" r="2.1" fill="#6090e8"/></g>
<use href="#L" transform="translate(588,428) scale(1.000,0.941)"/>
<g opacity="0.95"><circle cx="595.2" cy="430.9" r="1.8" fill="#6090e8"/><circle cx="601" cy="458.5" r="2.3" fill="#6090e8"/><circle cx="597.4" cy="432.9" r="2.3" fill="#6090e8"/><circle cx="590.6" cy="434" r="1.9" fill="#6090e8"/><circle cx="593.7" cy="440.2" r="1.9" fill="#6090e8"/><circle cx="592.2" cy="444.6" r="1.9" fill="#6090e8"/><circle cx="591.4" cy="440.3" r="1.9" fill="#66da66"/><circle cx="595.9" cy="438.9" r="2" fill="#66da66"/><circle cx="591.2" cy="438.6" r="2.1" fill="#6090e8"/><circle cx="594.1" cy="431.8" r="2.2" fill="#66da66"/><circle cx="593.9" cy="456.3" r="1.7" fill="#6090e8"/><circle cx="593.9" cy="458.1" r="2.2" fill="#6090e8"/><circle cx="594" cy="438.2" r="1.8" fill="#66da66"/><circle cx="598.7" cy="453.1" r="2" fill="#66da66"/><circle cx="589.7" cy="435.3" r="1.9" fill="#6090e8"/><circle cx="600.6" cy="440.8" r="1.8" fill="#66da66"/><circle cx="602" cy="448.1" r="1.7" fill="#66da66"/><circle cx="592.7" cy="436.9" r="2" fill="#6090e8"/><circle cx="600.3" cy="439.8" r="2.5" fill="#66da66"/><circle cx="598.5" cy="455.3" r="2" fill="#66da66"/><circle cx="599.5" cy="452.6" r="2.3" fill="#66da66"/><circle cx="597.4" cy="450.1" r="1.9" fill="#66da66"/><circle cx="602.3" cy="453.9" r="2.4" fill="#66da66"/><circle cx="600.3" cy="440.9" r="2.1" fill="#66da66"/><circle cx="596.7" cy="432.5" r="2.1" fill="#6090e8"/><circle cx="596.7" cy="445.2" r="2.2" fill="#6090e8"/><circle cx="601.3" cy="449.9" r="2.2" fill="#66da66"/><circle cx="598.9" cy="438.9" r="2.1" fill="#6090e8"/><circle cx="600.8" cy="442.6" r="2.2" fill="#6090e8"/><circle cx="593.9" cy="439.7" r="1.7" fill="#66da66"/><circle cx="601.4" cy="442.8" r="2.1" fill="#6090e8"/><circle cx="600.2" cy="440.8" r="2.4" fill="#6090e8"/><circle cx="598.1" cy="452.7" r="2" fill="#66da66"/><circle cx="601.5" cy="453.2" r="2" fill="#66da66"/><circle cx="593.8" cy="435.3" r="2.5" fill="#66da66"/><circle cx="599.4" cy="437.6" r="2.1" fill="#6090e8"/><circle cx="600.1" cy="450.9" r="2.1" fill="#66da66"/><circle cx="597.9" cy="449.6" r="1.9" fill="#66da66"/><circle cx="601.5" cy="446.2" r="2.4" fill="#66da66"/><circle cx="600.5" cy="445.4" r="2.1" fill="#6090e8"/><circle cx="594.2" cy="441.2" r="1.8" fill="#6090e8"/><circle cx="592.2" cy="434.1" r="2.3" fill="#6090e8"/><circle cx="592.9" cy="453.3" r="1.7" fill="#66da66"/><circle cx="601.3" cy="448.3" r="2.4" fill="#66da66"/><circle cx="596.7" cy="443.3" r="2" fill="#6090e8"/><circle cx="595.2" cy="434.2" r="1.9" fill="#6090e8"/><circle cx="589.9" cy="430.9" r="2" fill="#6090e8"/><circle cx="598.8" cy="443.7" r="2.3" fill="#6090e8"/><circle cx="595.7" cy="438.7" r="1.8" fill="#66da66"/><circle cx="593" cy="439.6" r="1.9" fill="#66da66"/><circle cx="601.9" cy="454.8" r="1.9" fill="#6090e8"/><circle cx="596.1" cy="444.1" r="2.2" fill="#6090e8"/><circle cx="599.2" cy="438" r="2.3" fill="#66da66"/><circle cx="599.3" cy="454.6" r="2.5" fill="#6090e8"/><circle cx="601" cy="444.2" r="2" fill="#6090e8"/><circle cx="592.6" cy="444.9" r="1.8" fill="#6090e8"/></g>
<ellipse cx="571.5" cy="446" rx="4.5" ry="6" fill="#66da66"/>
<polygon points="589,446 585.5,453.8 578.5,453.8 575,446 578.5,438.2 585.5,438.2" fill="#66da66" stroke="#3fb03f" stroke-width="1"/>
<path d="M589,446h0 M585.5,453.8h0 M578.5,453.8h0 M575,446h0 M578.5,438.2h0 M585.5,438.2h0" stroke="#c07a6a" stroke-width="2.3" stroke-linecap="round"/>
<use href="#L" transform="translate(655,423) scale(0.875,1.015)"/>
<g opacity="0.95"><circle cx="659.3" cy="443.6" r="2.3" fill="#6090e8"/><circle cx="656.7" cy="435.4" r="1.8" fill="#66da66"/><circle cx="666.4" cy="451.5" r="1.8" fill="#6090e8"/><circle cx="663.1" cy="443.3" r="2.1" fill="#66da66"/><circle cx="664.2" cy="427.3" r="2.1" fill="#6090e8"/><circle cx="660.9" cy="444.3" r="1.8" fill="#6090e8"/><circle cx="663.4" cy="450.3" r="1.9" fill="#6090e8"/><circle cx="659.4" cy="436.5" r="1.9" fill="#66da66"/><circle cx="663.6" cy="434.9" r="2.2" fill="#66da66"/><circle cx="665.6" cy="431.8" r="2.3" fill="#6090e8"/><circle cx="665.2" cy="432.9" r="1.8" fill="#66da66"/><circle cx="663.6" cy="452.3" r="1.7" fill="#6090e8"/><circle cx="662.1" cy="425.8" r="1.8" fill="#6090e8"/><circle cx="666" cy="456.1" r="2.3" fill="#6090e8"/><circle cx="664.2" cy="444" r="1.8" fill="#6090e8"/><circle cx="661.8" cy="448.1" r="2" fill="#6090e8"/><circle cx="659.5" cy="447" r="2.3" fill="#6090e8"/><circle cx="662.7" cy="437.4" r="2.3" fill="#6090e8"/><circle cx="660.4" cy="426.5" r="2" fill="#66da66"/><circle cx="664.6" cy="455.7" r="2.3" fill="#6090e8"/><circle cx="664.6" cy="452.2" r="2.4" fill="#6090e8"/><circle cx="660.6" cy="438.3" r="1.9" fill="#66da66"/><circle cx="659" cy="455.7" r="1.9" fill="#6090e8"/><circle cx="663" cy="435.6" r="2.3" fill="#6090e8"/><circle cx="657.2" cy="445.7" r="1.7" fill="#6090e8"/><circle cx="667.1" cy="426.8" r="2.1" fill="#66da66"/><circle cx="657.8" cy="435.5" r="2.2" fill="#66da66"/><circle cx="658.8" cy="432.4" r="2.5" fill="#66da66"/><circle cx="664.4" cy="452.7" r="2.4" fill="#6090e8"/><circle cx="658.2" cy="437.9" r="2.5" fill="#66da66"/><circle cx="660.1" cy="426.6" r="1.9" fill="#6090e8"/><circle cx="659.2" cy="442" r="2.3" fill="#6090e8"/><circle cx="664.2" cy="439.6" r="2.3" fill="#66da66"/><circle cx="664.8" cy="453.6" r="1.8" fill="#6090e8"/><circle cx="664.1" cy="429.6" r="2.2" fill="#66da66"/><circle cx="658.1" cy="448.9" r="1.8" fill="#66da66"/><circle cx="661.2" cy="444.9" r="2" fill="#66da66"/><circle cx="657.2" cy="433.7" r="2.1" fill="#66da66"/><circle cx="658.6" cy="434.9" r="2.4" fill="#66da66"/><circle cx="660.9" cy="451.4" r="2.5" fill="#66da66"/><circle cx="659.2" cy="443.3" r="2.5" fill="#6090e8"/><circle cx="664" cy="450.1" r="1.9" fill="#66da66"/><circle cx="664.9" cy="436.5" r="1.8" fill="#66da66"/><circle cx="662" cy="443.5" r="2" fill="#6090e8"/><circle cx="661" cy="446.2" r="2.1" fill="#66da66"/><circle cx="661.1" cy="453.3" r="1.7" fill="#6090e8"/><circle cx="657.1" cy="446.2" r="2.4" fill="#66da66"/><circle cx="662.5" cy="424.6" r="2.1" fill="#6090e8"/><circle cx="667.2" cy="426.4" r="1.9" fill="#66da66"/><circle cx="660.5" cy="453.5" r="2.4" fill="#6090e8"/><circle cx="663.5" cy="437.4" r="2.4" fill="#66da66"/><circle cx="662.2" cy="428.8" r="1.7" fill="#66da66"/><circle cx="658.1" cy="433.9" r="2.1" fill="#6090e8"/></g>
<ellipse cx="470" cy="472.5" rx="7" ry="9" fill="#66da66"/>
<ellipse cx="495" cy="470.5" rx="8.5" ry="9" fill="#66da66"/>
<ellipse cx="482" cy="471" rx="7.3" ry="14.5" fill="#6090e8"/>
<path d="M489.5,471h0 M485.8,482.3h0 M478.2,482.3h0 M474.5,471h0 M478.2,459.7h0 M485.8,459.7h0" stroke="#c07a6a" stroke-width="2.3" stroke-linecap="round"/>
<use href="#L" transform="translate(585,471) scale(1.125,0.912)"/>
<g opacity="0.95"><circle cx="589.5" cy="484" r="2.1" fill="#6090e8"/><circle cx="596.4" cy="499.8" r="2.2" fill="#66da66"/><circle cx="593.3" cy="476.9" r="1.9" fill="#6090e8"/><circle cx="593.1" cy="477" r="2.3" fill="#6090e8"/><circle cx="595.5" cy="481.2" r="2.3" fill="#6090e8"/><circle cx="596.4" cy="479.5" r="2.2" fill="#66da66"/><circle cx="593.7" cy="485.1" r="2.2" fill="#66da66"/><circle cx="594.9" cy="496.1" r="2" fill="#66da66"/><circle cx="596.4" cy="489.1" r="2.1" fill="#6090e8"/><circle cx="598" cy="495.8" r="2.2" fill="#66da66"/><circle cx="590.9" cy="485.8" r="1.7" fill="#6090e8"/><circle cx="596.1" cy="476.6" r="2.5" fill="#6090e8"/><circle cx="599.9" cy="474" r="2.2" fill="#66da66"/><circle cx="596.4" cy="480.8" r="1.8" fill="#66da66"/><circle cx="590.9" cy="495.8" r="1.7" fill="#66da66"/><circle cx="594.8" cy="483.7" r="1.8" fill="#66da66"/><circle cx="586.9" cy="495.9" r="2.5" fill="#66da66"/><circle cx="587.4" cy="492.3" r="1.8" fill="#66da66"/><circle cx="589.7" cy="490.4" r="1.7" fill="#66da66"/><circle cx="596.5" cy="479" r="2.2" fill="#66da66"/><circle cx="595" cy="482.8" r="2.2" fill="#6090e8"/><circle cx="592.7" cy="489.6" r="2.1" fill="#6090e8"/><circle cx="592.7" cy="477.4" r="2.1" fill="#66da66"/><circle cx="589.2" cy="482.6" r="2.3" fill="#6090e8"/><circle cx="597.7" cy="485" r="2.1" fill="#66da66"/><circle cx="597.5" cy="474.7" r="2.3" fill="#6090e8"/><circle cx="593.7" cy="479.3" r="2" fill="#66da66"/><circle cx="595.1" cy="474.1" r="1.8" fill="#6090e8"/><circle cx="586.7" cy="488.1" r="2.5" fill="#6090e8"/><circle cx="597.3" cy="475.7" r="1.7" fill="#6090e8"/><circle cx="595.1" cy="488.1" r="2" fill="#66da66"/><circle cx="594.6" cy="490.1" r="2.3" fill="#66da66"/><circle cx="595.8" cy="482.7" r="2.3" fill="#6090e8"/><circle cx="593.2" cy="490" r="1.7" fill="#66da66"/><circle cx="600" cy="472.6" r="2.4" fill="#6090e8"/><circle cx="597" cy="480.9" r="1.7" fill="#6090e8"/><circle cx="595.5" cy="489.7" r="2.4" fill="#66da66"/><circle cx="586.9" cy="492.9" r="2" fill="#66da66"/><circle cx="590.2" cy="479.3" r="2.2" fill="#6090e8"/><circle cx="596.7" cy="474.5" r="1.7" fill="#6090e8"/><circle cx="594.8" cy="484.2" r="1.8" fill="#6090e8"/><circle cx="598.5" cy="480.4" r="2.3" fill="#66da66"/><circle cx="590.7" cy="478.1" r="2.1" fill="#66da66"/><circle cx="588.6" cy="498.3" r="2.1" fill="#6090e8"/><circle cx="590.8" cy="482.8" r="2" fill="#66da66"/><circle cx="590.4" cy="473.8" r="2" fill="#66da66"/><circle cx="595.6" cy="489" r="2.3" fill="#66da66"/><circle cx="587.2" cy="496.8" r="2" fill="#6090e8"/><circle cx="595.5" cy="495.6" r="2.1" fill="#66da66"/><circle cx="594.2" cy="498.8" r="2.2" fill="#6090e8"/><circle cx="590.9" cy="489.9" r="2" fill="#66da66"/><circle cx="590.9" cy="474.4" r="1.8" fill="#6090e8"/><circle cx="596.7" cy="482.6" r="2.5" fill="#66da66"/><circle cx="591" cy="473.5" r="2" fill="#6090e8"/><circle cx="588.9" cy="498.7" r="2.3" fill="#6090e8"/><circle cx="592.5" cy="473.4" r="2.2" fill="#6090e8"/><circle cx="597.3" cy="477.8" r="2.2" fill="#66da66"/><circle cx="590.3" cy="498.5" r="2.1" fill="#6090e8"/><circle cx="600.9" cy="472.5" r="2.2" fill="#6090e8"/><circle cx="594.8" cy="497.1" r="1.8" fill="#6090e8"/><circle cx="594.3" cy="477.4" r="1.9" fill="#66da66"/><circle cx="588.6" cy="499.7" r="2.1" fill="#6090e8"/></g>
<polygon points="582.4,488 578.8,495.4 571.6,495.4 568,488 571.6,480.6 578.8,480.6" fill="#66da66" stroke="#3fb03f" stroke-width="1"/>
<path d="M582.4,488h0 M578.8,495.4h0 M571.6,495.4h0 M568,488h0 M571.6,480.6h0 M578.8,480.6h0" stroke="#c07a6a" stroke-width="2.3" stroke-linecap="round"/>
<line x1="582" y1="488" x2="588" y2="488" stroke="#5ccc5c" stroke-width="3"/>
<use href="#L" transform="translate(656,478.5) scale(1.106,1.074)"/>
<g opacity="0.95"><circle cx="663.5" cy="491.2" r="2" fill="#6090e8"/><circle cx="660.7" cy="488.7" r="1.9" fill="#66da66"/><circle cx="663.8" cy="490.4" r="2.1" fill="#66da66"/><circle cx="659.8" cy="496" r="2.4" fill="#6090e8"/><circle cx="658.9" cy="489.6" r="2.1" fill="#66da66"/><circle cx="668.5" cy="511.4" r="2.2" fill="#6090e8"/><circle cx="671.7" cy="510.5" r="2.1" fill="#6090e8"/><circle cx="664.4" cy="512.1" r="2.2" fill="#6090e8"/><circle cx="663.7" cy="480.5" r="2.1" fill="#6090e8"/><circle cx="668.1" cy="512.8" r="2" fill="#6090e8"/><circle cx="664.3" cy="497" r="2.3" fill="#6090e8"/><circle cx="665.1" cy="493.8" r="1.9" fill="#66da66"/><circle cx="662.5" cy="499.4" r="2" fill="#6090e8"/><circle cx="666" cy="499" r="2.3" fill="#6090e8"/><circle cx="667.4" cy="484.9" r="1.9" fill="#66da66"/><circle cx="667" cy="490.5" r="2.1" fill="#66da66"/><circle cx="669.4" cy="498.9" r="2.4" fill="#66da66"/><circle cx="658.7" cy="484.4" r="2.2" fill="#6090e8"/><circle cx="658" cy="494.7" r="2.4" fill="#66da66"/><circle cx="660.7" cy="493.8" r="2.4" fill="#6090e8"/><circle cx="663.7" cy="490.9" r="2.3" fill="#6090e8"/><circle cx="660.6" cy="484.9" r="2.4" fill="#66da66"/><circle cx="663.1" cy="483.1" r="1.8" fill="#66da66"/><circle cx="662.4" cy="493.8" r="2.2" fill="#6090e8"/><circle cx="662.7" cy="484.4" r="2" fill="#6090e8"/><circle cx="668.2" cy="495.8" r="1.7" fill="#6090e8"/><circle cx="665.7" cy="511.9" r="2.3" fill="#6090e8"/><circle cx="668" cy="490.7" r="2.4" fill="#6090e8"/><circle cx="662.5" cy="504.5" r="1.8" fill="#66da66"/><circle cx="662.1" cy="490.7" r="2.3" fill="#6090e8"/><circle cx="664.9" cy="501.9" r="1.8" fill="#6090e8"/><circle cx="667.1" cy="498.6" r="2.3" fill="#66da66"/><circle cx="664" cy="493.6" r="2.1" fill="#6090e8"/><circle cx="662.4" cy="504.1" r="1.7" fill="#6090e8"/><circle cx="667" cy="487.5" r="1.9" fill="#66da66"/><circle cx="662.8" cy="483.3" r="2.2" fill="#6090e8"/><circle cx="660.4" cy="500.9" r="2.2" fill="#6090e8"/><circle cx="662.1" cy="483.4" r="1.8" fill="#66da66"/><circle cx="667.9" cy="497.8" r="2" fill="#66da66"/><circle cx="662" cy="485.8" r="2.4" fill="#6090e8"/><circle cx="667.7" cy="488.7" r="2.4" fill="#6090e8"/><circle cx="662.4" cy="483.9" r="1.8" fill="#6090e8"/><circle cx="660.8" cy="481.6" r="1.8" fill="#6090e8"/><circle cx="664.6" cy="487" r="1.8" fill="#66da66"/><circle cx="664.9" cy="490.4" r="2" fill="#66da66"/><circle cx="663.2" cy="480.7" r="2.4" fill="#6090e8"/><circle cx="667" cy="506.5" r="2.2" fill="#6090e8"/><circle cx="666.3" cy="489.9" r="1.9" fill="#66da66"/><circle cx="660.6" cy="481.6" r="1.8" fill="#66da66"/><circle cx="670.2" cy="502.4" r="2.1" fill="#6090e8"/><circle cx="668.8" cy="511.8" r="1.8" fill="#66da66"/><circle cx="658.1" cy="492.1" r="2.1" fill="#6090e8"/><circle cx="665.8" cy="480.8" r="1.9" fill="#6090e8"/><circle cx="664.7" cy="488.9" r="2.3" fill="#66da66"/><circle cx="662.5" cy="498.1" r="2.2" fill="#6090e8"/><circle cx="665.3" cy="509.5" r="2.3" fill="#6090e8"/><circle cx="665.5" cy="503.8" r="2.1" fill="#66da66"/><circle cx="667.2" cy="486" r="2" fill="#66da66"/><circle cx="661.8" cy="484" r="1.8" fill="#6090e8"/><circle cx="666.8" cy="498.2" r="2.4" fill="#66da66"/><circle cx="667.6" cy="485.3" r="2.2" fill="#6090e8"/><circle cx="664.9" cy="512.8" r="1.9" fill="#6090e8"/><circle cx="662.5" cy="502.1" r="1.9" fill="#6090e8"/><circle cx="672.5" cy="511.8" r="1.9" fill="#6090e8"/><circle cx="666.9" cy="500.1" r="2.5" fill="#6090e8"/><circle cx="666.1" cy="513.2" r="2.1" fill="#6090e8"/><circle cx="665" cy="491.1" r="1.7" fill="#6090e8"/><circle cx="665.2" cy="488.9" r="2" fill="#6090e8"/><circle cx="670.8" cy="507.8" r="2.4" fill="#66da66"/><circle cx="665.7" cy="484.7" r="1.9" fill="#6090e8"/><circle cx="661.3" cy="486.4" r="1.8" fill="#66da66"/></g>
<ellipse cx="486" cy="531" rx="14.5" ry="12" fill="#6090e8"/>
<ellipse cx="478" cy="524" rx="6" ry="5" fill="#6090e8"/>
<ellipse cx="494" cy="538" rx="7" ry="5" fill="#6090e8"/>
<use href="#L" transform="translate(574,517) scale(0.875,0.912)"/>
<g opacity="0.95"><circle cx="578.5" cy="520.5" r="2.2" fill="#66da66"/><circle cx="584.1" cy="536.8" r="2.2" fill="#6090e8"/><circle cx="578.2" cy="521.1" r="2" fill="#66da66"/><circle cx="583.2" cy="538.7" r="2.3" fill="#66da66"/><circle cx="580.4" cy="539.4" r="2" fill="#66da66"/><circle cx="575.9" cy="526.1" r="1.9" fill="#6090e8"/><circle cx="579.8" cy="545.6" r="2.5" fill="#6090e8"/><circle cx="578.7" cy="531.6" r="2" fill="#66da66"/><circle cx="581.5" cy="539.9" r="1.9" fill="#66da66"/><circle cx="581.2" cy="536.8" r="1.9" fill="#6090e8"/><circle cx="582.4" cy="526.2" r="2.3" fill="#6090e8"/><circle cx="581.8" cy="544.6" r="2.3" fill="#6090e8"/><circle cx="581.4" cy="537.9" r="2.3" fill="#66da66"/><circle cx="586.3" cy="546.1" r="2.1" fill="#6090e8"/><circle cx="580.5" cy="537.6" r="2.4" fill="#6090e8"/><circle cx="578.5" cy="519.2" r="2.5" fill="#66da66"/><circle cx="580.9" cy="524.5" r="2.4" fill="#6090e8"/><circle cx="579.3" cy="523" r="2.4" fill="#6090e8"/><circle cx="578.5" cy="539.6" r="2" fill="#66da66"/><circle cx="582.5" cy="545.2" r="2.1" fill="#6090e8"/><circle cx="578.6" cy="519.8" r="2.3" fill="#66da66"/><circle cx="583.9" cy="535.6" r="1.9" fill="#6090e8"/><circle cx="587" cy="543.9" r="2.3" fill="#6090e8"/><circle cx="578.9" cy="526.7" r="2.3" fill="#66da66"/><circle cx="582.9" cy="528.2" r="2" fill="#66da66"/><circle cx="575" cy="532" r="1.8" fill="#66da66"/><circle cx="575.1" cy="527.5" r="1.9" fill="#66da66"/><circle cx="580.6" cy="534.4" r="2.1" fill="#66da66"/><circle cx="578.7" cy="537.6" r="1.8" fill="#6090e8"/><circle cx="581.6" cy="528.3" r="1.7" fill="#66da66"/><circle cx="579.3" cy="542.5" r="1.9" fill="#6090e8"/><circle cx="585.4" cy="542.3" r="1.8" fill="#6090e8"/><circle cx="577.6" cy="528.1" r="1.7" fill="#66da66"/><circle cx="579.8" cy="538.5" r="1.8" fill="#66da66"/><circle cx="579.5" cy="533.3" r="2.4" fill="#66da66"/><circle cx="576.5" cy="523.9" r="1.9" fill="#6090e8"/><circle cx="586.3" cy="545.3" r="1.7" fill="#6090e8"/><circle cx="584.1" cy="519.5" r="2.3" fill="#66da66"/><circle cx="576.1" cy="533.6" r="2.4" fill="#66da66"/><circle cx="578.7" cy="543.1" r="2" fill="#6090e8"/><circle cx="581.9" cy="526.2" r="1.9" fill="#6090e8"/><circle cx="581.7" cy="526" r="2.4" fill="#6090e8"/><circle cx="578" cy="538.1" r="2.2" fill="#6090e8"/><circle cx="582.4" cy="523.8" r="2" fill="#6090e8"/><circle cx="583.2" cy="542.6" r="2.4" fill="#66da66"/><circle cx="581.2" cy="538.8" r="1.8" fill="#66da66"/><circle cx="581.9" cy="540.4" r="1.8" fill="#6090e8"/><circle cx="582.4" cy="545.1" r="2.3" fill="#66da66"/></g>
<ellipse cx="564" cy="533" rx="9.5" ry="10" fill="#6090e8"/>
<ellipse cx="560" cy="526" rx="4" ry="4" fill="#6090e8"/>
<use href="#L" transform="translate(610,516) scale(1.000,0.941)"/>
<g opacity="0.95"><circle cx="622.7" cy="529.5" r="1.8" fill="#66da66"/><circle cx="621.2" cy="538.5" r="1.9" fill="#6090e8"/><circle cx="620.6" cy="519.7" r="2.3" fill="#66da66"/><circle cx="619.6" cy="536.9" r="2.4" fill="#6090e8"/><circle cx="621.8" cy="518.3" r="2.3" fill="#66da66"/><circle cx="620.5" cy="535.1" r="1.7" fill="#66da66"/><circle cx="622.8" cy="518.2" r="2" fill="#66da66"/><circle cx="619.3" cy="538.9" r="1.8" fill="#66da66"/><circle cx="623.6" cy="528.2" r="2.3" fill="#6090e8"/><circle cx="620.4" cy="537.2" r="2.2" fill="#66da66"/><circle cx="616.1" cy="540.8" r="2.5" fill="#6090e8"/><circle cx="614.4" cy="539.5" r="2.3" fill="#6090e8"/><circle cx="618.3" cy="520.7" r="2.1" fill="#66da66"/><circle cx="614.9" cy="530.6" r="2.4" fill="#66da66"/><circle cx="615.9" cy="540.2" r="2.4" fill="#66da66"/><circle cx="618.8" cy="527.8" r="1.8" fill="#66da66"/><circle cx="615.9" cy="520.9" r="2.1" fill="#6090e8"/><circle cx="612" cy="542.2" r="2.2" fill="#66da66"/><circle cx="617.2" cy="531.7" r="2.5" fill="#6090e8"/><circle cx="616.9" cy="534.9" r="2.2" fill="#66da66"/><circle cx="618.9" cy="538.9" r="2" fill="#6090e8"/><circle cx="613.2" cy="537.9" r="2.4" fill="#66da66"/><circle cx="620.9" cy="537.4" r="2.2" fill="#6090e8"/><circle cx="620.9" cy="540.7" r="2.1" fill="#66da66"/><circle cx="617.7" cy="524.8" r="2.1" fill="#66da66"/><circle cx="624.8" cy="521.5" r="1.8" fill="#6090e8"/><circle cx="624.1" cy="526.4" r="2" fill="#66da66"/><circle cx="621.8" cy="543.1" r="2.3" fill="#66da66"/><circle cx="619.3" cy="544.3" r="2" fill="#6090e8"/><circle cx="618.4" cy="534.6" r="2.1" fill="#6090e8"/><circle cx="623" cy="527.9" r="2.5" fill="#66da66"/><circle cx="614.2" cy="528.4" r="1.9" fill="#66da66"/><circle cx="619.7" cy="536.9" r="2.1" fill="#6090e8"/><circle cx="620.8" cy="519.1" r="1.8" fill="#66da66"/><circle cx="614.3" cy="527" r="2.3" fill="#66da66"/><circle cx="618.1" cy="541.5" r="2.2" fill="#66da66"/><circle cx="614.7" cy="538.1" r="1.7" fill="#66da66"/><circle cx="615.5" cy="546.5" r="2" fill="#6090e8"/><circle cx="623.1" cy="522.4" r="2" fill="#66da66"/><circle cx="620.2" cy="544.8" r="2.5" fill="#6090e8"/><circle cx="613.9" cy="527.2" r="2.1" fill="#66da66"/><circle cx="616.5" cy="544.1" r="2.3" fill="#6090e8"/><circle cx="620.7" cy="518.9" r="2" fill="#66da66"/><circle cx="617.1" cy="520.5" r="2.3" fill="#66da66"/><circle cx="615" cy="536.7" r="2.3" fill="#6090e8"/><circle cx="614.8" cy="545.2" r="2.3" fill="#66da66"/><circle cx="613.6" cy="538.3" r="2.4" fill="#6090e8"/><circle cx="620" cy="546.4" r="1.8" fill="#66da66"/><circle cx="615" cy="523.6" r="2" fill="#6090e8"/><circle cx="615.9" cy="519" r="2.3" fill="#6090e8"/><circle cx="620.6" cy="538.4" r="2.1" fill="#66da66"/><circle cx="615.1" cy="523.9" r="2.4" fill="#6090e8"/><circle cx="620.6" cy="531.8" r="2.1" fill="#66da66"/><circle cx="619.4" cy="534.1" r="1.9" fill="#66da66"/><circle cx="621.4" cy="527.9" r="2.2" fill="#6090e8"/><circle cx="622.3" cy="531.9" r="1.9" fill="#66da66"/></g>
<ellipse cx="594.5" cy="533" rx="4.2" ry="7" fill="#6090e8"/>
<ellipse cx="610" cy="533.5" rx="5" ry="5.5" fill="#6090e8"/>
<polygon points="607.3,533 604.4,539.5 598.6,539.5 595.7,533 598.6,526.5 604.4,526.5" fill="#66da66" stroke="#3fb03f" stroke-width="1"/>
<path d="M607.3,533h0 M604.4,539.5h0 M598.6,539.5h0 M595.7,533h0 M598.6,526.5h0 M604.4,526.5h0" stroke="#c07a6a" stroke-width="2.3" stroke-linecap="round"/>
<use href="#L" transform="translate(655,539) scale(1.000,0.912)"/>
<g opacity="0.95"><circle cx="657.3" cy="552.2" r="2" fill="#6090e8"/><circle cx="659.5" cy="545.7" r="2.2" fill="#66da66"/><circle cx="662" cy="555.5" r="2" fill="#6090e8"/><circle cx="658.1" cy="559.6" r="2.4" fill="#66da66"/><circle cx="664" cy="546.6" r="2.5" fill="#66da66"/><circle cx="666.8" cy="559.7" r="2.5" fill="#6090e8"/><circle cx="657.8" cy="550.9" r="2.1" fill="#6090e8"/><circle cx="661.3" cy="550.1" r="1.7" fill="#6090e8"/><circle cx="666.2" cy="560.8" r="2.4" fill="#6090e8"/><circle cx="661.4" cy="549.4" r="2.2" fill="#6090e8"/><circle cx="664.8" cy="545.9" r="2.5" fill="#6090e8"/><circle cx="660.2" cy="540.8" r="2.5" fill="#6090e8"/><circle cx="663.3" cy="550.2" r="2.2" fill="#6090e8"/><circle cx="658.5" cy="562.2" r="1.8" fill="#6090e8"/><circle cx="664.4" cy="544.2" r="2" fill="#6090e8"/><circle cx="664.4" cy="544.9" r="2.2" fill="#66da66"/><circle cx="660" cy="554.2" r="2.3" fill="#6090e8"/><circle cx="661.5" cy="542.6" r="2.4" fill="#6090e8"/><circle cx="662.4" cy="558.2" r="2.1" fill="#66da66"/><circle cx="658.3" cy="549.8" r="2" fill="#6090e8"/><circle cx="666.3" cy="551.8" r="2" fill="#6090e8"/><circle cx="662.7" cy="551.4" r="2.4" fill="#6090e8"/><circle cx="663.8" cy="560.7" r="2.3" fill="#6090e8"/><circle cx="662.4" cy="558.2" r="1.9" fill="#66da66"/><circle cx="664.8" cy="547.4" r="2.2" fill="#66da66"/><circle cx="658.9" cy="564.4" r="2.1" fill="#66da66"/><circle cx="659.8" cy="560.1" r="1.8" fill="#66da66"/><circle cx="663.5" cy="544" r="1.7" fill="#6090e8"/><circle cx="660.6" cy="555.3" r="2.4" fill="#66da66"/><circle cx="665.6" cy="549.5" r="2.1" fill="#6090e8"/><circle cx="667.9" cy="563.4" r="2.5" fill="#66da66"/><circle cx="662.8" cy="556.3" r="2.2" fill="#66da66"/><circle cx="658.8" cy="559.5" r="1.9" fill="#66da66"/><circle cx="658.8" cy="551.2" r="1.9" fill="#66da66"/><circle cx="662.1" cy="558.8" r="2.1" fill="#6090e8"/><circle cx="665.8" cy="542.3" r="2.2" fill="#6090e8"/><circle cx="656.7" cy="551.6" r="2.2" fill="#66da66"/><circle cx="657.7" cy="550.8" r="2.2" fill="#6090e8"/><circle cx="656.6" cy="554.3" r="2.5" fill="#6090e8"/><circle cx="661" cy="546.6" r="1.7" fill="#66da66"/><circle cx="661.8" cy="554.3" r="2.4" fill="#6090e8"/><circle cx="661.6" cy="542.7" r="1.7" fill="#6090e8"/><circle cx="659.7" cy="545.7" r="2.2" fill="#66da66"/><circle cx="656.7" cy="558.7" r="2.1" fill="#6090e8"/><circle cx="661.2" cy="552" r="1.9" fill="#6090e8"/><circle cx="665.5" cy="554.6" r="1.8" fill="#66da66"/><circle cx="662" cy="559.8" r="2" fill="#6090e8"/><circle cx="660" cy="568.6" r="2.3" fill="#6090e8"/><circle cx="662.6" cy="566.4" r="1.9" fill="#6090e8"/><circle cx="659.7" cy="567.2" r="2.2" fill="#66da66"/><circle cx="662.5" cy="549" r="2.3" fill="#6090e8"/><circle cx="659.3" cy="545.2" r="1.7" fill="#66da66"/><circle cx="662" cy="558.2" r="1.9" fill="#66da66"/><circle cx="667.1" cy="542" r="2.1" fill="#6090e8"/><circle cx="660" cy="562.3" r="1.8" fill="#6090e8"/></g>
<line x1="472" y1="304" x2="495" y2="304" stroke="#000" stroke-width="2.8"/>
<line x1="568" y1="316.5" x2="591" y2="316.5" stroke="#000" stroke-width="2.8"/>
<line x1="650" y1="302" x2="679" y2="302" stroke="#000" stroke-width="2.8" stroke-dasharray="2.6 1.8"/>
<line x1="474" y1="356" x2="497" y2="356" stroke="#000" stroke-width="2.8"/>
<line x1="571" y1="361" x2="593" y2="361" stroke="#000" stroke-width="2.8"/>
<line x1="475" y1="399.3" x2="499.5" y2="399.3" stroke="#000" stroke-width="2.8"/>
<line x1="570" y1="414.6" x2="594" y2="414.6" stroke="#000" stroke-width="2.8"/>
<line x1="648" y1="398" x2="676" y2="398" stroke="#000" stroke-width="2.8"/>
<line x1="570" y1="459.5" x2="594" y2="459.5" stroke="#000" stroke-width="2.8"/>
<line x1="652" y1="460" x2="676" y2="460" stroke="#000" stroke-width="2.8"/>
<line x1="473" y1="490.8" x2="497" y2="490.8" stroke="#000" stroke-width="2.8"/>
<line x1="574" y1="501" x2="598.5" y2="501" stroke="#000" stroke-width="2.8"/>
<line x1="653.6" y1="518.5" x2="677" y2="518.5" stroke="#000" stroke-width="2.8"/>
<line x1="476" y1="549.3" x2="500" y2="549.3" stroke="#000" stroke-width="2.8"/>
<line x1="555" y1="548.5" x2="577.5" y2="548.5" stroke="#000" stroke-width="2.8"/>
<line x1="593" y1="550" x2="617" y2="550" stroke="#000" stroke-width="2.8"/>
<line x1="651" y1="579.5" x2="673.6" y2="579.5" stroke="#000" stroke-width="2.8"/>
<line x1="495" y1="304" x2="568" y2="316.5" stroke="#f01818" stroke-width="1.6" stroke-dasharray="2.8 1.6"/>
<line x1="591" y1="316.5" x2="650" y2="302" stroke="#f01818" stroke-width="1.6" stroke-dasharray="2.8 1.6"/>
<line x1="594" y1="361" x2="650" y2="302" stroke="#f01818" stroke-width="1.6" stroke-dasharray="2.8 1.6"/>
<line x1="497" y1="356" x2="571" y2="361" stroke="#f01818" stroke-width="1.6" stroke-dasharray="2.8 1.6"/>
<line x1="594" y1="361" x2="652" y2="460" stroke="#f01818" stroke-width="1.6" stroke-dasharray="2.8 1.6"/>
<line x1="499.5" y1="399.3" x2="570" y2="414.6" stroke="#f01818" stroke-width="1.6" stroke-dasharray="2.8 1.6"/>
<line x1="499.5" y1="399.3" x2="570" y2="459.5" stroke="#f01818" stroke-width="1.6" stroke-dasharray="2.8 1.6"/>
<line x1="594" y1="414.6" x2="648" y2="398" stroke="#f01818" stroke-width="1.6" stroke-dasharray="2.8 1.6"/>
<line x1="594" y1="459.5" x2="652" y2="460" stroke="#f01818" stroke-width="1.6" stroke-dasharray="2.8 1.6"/>
<line x1="497" y1="490.8" x2="574" y2="501" stroke="#f01818" stroke-width="1.6" stroke-dasharray="2.8 1.6"/>
<line x1="598.5" y1="501" x2="653.6" y2="518.5" stroke="#f01818" stroke-width="1.6" stroke-dasharray="2.8 1.6"/>
<line x1="500" y1="549.3" x2="555" y2="548.5" stroke="#f01818" stroke-width="1.6" stroke-dasharray="2.8 1.6"/>
<line x1="500" y1="550.5" x2="577" y2="550.5" stroke="#f01818" stroke-width="1.6" stroke-dasharray="2.8 1.6"/>
<line x1="577" y1="550.5" x2="651" y2="579.5" stroke="#f01818" stroke-width="1.6" stroke-dasharray="2.8 1.6"/>
<line x1="617" y1="550" x2="651" y2="579.5" stroke="#f01818" stroke-width="1.6" stroke-dasharray="2.8 1.6"/>
<text transform="translate(535.5,302) rotate(0)" font-size="13.8" fill="#f01818" stroke="#f01818" stroke-width="0.35" font-family="Liberation Serif" font-weight="bold" text-anchor="middle" dominant-baseline="central">46%</text>
<text transform="translate(622.5,298.5) rotate(-14)" font-size="13.8" fill="#f01818" stroke="#f01818" stroke-width="0.35" font-family="Liberation Serif" font-weight="bold" text-anchor="middle" dominant-baseline="central">36%</text>
<text transform="translate(614.5,326.5) rotate(-52)" font-size="13.8" fill="#f01818" stroke="#f01818" stroke-width="0.35" font-family="Liberation Serif" font-weight="bold" text-anchor="middle" dominant-baseline="central">17%</text>
<text transform="translate(530,349) rotate(0)" font-size="13.8" fill="#f01818" stroke="#f01818" stroke-width="0.35" font-family="Liberation Serif" font-weight="bold" text-anchor="middle" dominant-baseline="central">65%</text>
<text transform="translate(536.5,397.5) rotate(0)" font-size="13.8" fill="#f01818" stroke="#f01818" stroke-width="0.35" font-family="Liberation Serif" font-weight="bold" text-anchor="middle" dominant-baseline="central">34%</text>
<text transform="translate(633,394) rotate(-12)" font-size="13.8" fill="#f01818" stroke="#f01818" stroke-width="0.35" font-family="Liberation Serif" font-weight="bold" text-anchor="middle" dominant-baseline="central">46%</text>
<text transform="translate(642.5,426) rotate(62)" font-size="13.8" fill="#f01818" stroke="#f01818" stroke-width="0.35" font-family="Liberation Serif" font-weight="bold" text-anchor="middle" dominant-baseline="central">11%</text>
<text transform="translate(552.5,436) rotate(42)" font-size="13.8" fill="#f01818" stroke="#f01818" stroke-width="0.35" font-family="Liberation Serif" font-weight="bold" text-anchor="middle" dominant-baseline="central">18%</text>
<text transform="translate(624,450.5) rotate(0)" font-size="13.8" fill="#f01818" stroke="#f01818" stroke-width="0.35" font-family="Liberation Serif" font-weight="bold" text-anchor="middle" dominant-baseline="central">64%</text>
<text transform="translate(542.5,485.3) rotate(6)" font-size="13.8" fill="#f01818" stroke="#f01818" stroke-width="0.35" font-family="Liberation Serif" font-weight="bold" text-anchor="middle" dominant-baseline="central">16%</text>
<text transform="translate(635,502) rotate(14)" font-size="13.8" fill="#f01818" stroke="#f01818" stroke-width="0.35" font-family="Liberation Serif" font-weight="bold" text-anchor="middle" dominant-baseline="central">64%</text>
<text transform="translate(535.5,535.5) rotate(0)" font-size="13.8" fill="#f01818" stroke="#f01818" stroke-width="0.35" font-family="Liberation Serif" font-weight="bold" text-anchor="middle" dominant-baseline="central">68%</text>
<text transform="translate(535.5,558) rotate(0)" font-size="13.8" fill="#f01818" stroke="#f01818" stroke-width="0.35" font-family="Liberation Serif" font-weight="bold" text-anchor="middle" dominant-baseline="central">26%</text>
<text transform="translate(642.5,559) rotate(38)" font-size="13.8" fill="#f01818" stroke="#f01818" stroke-width="0.35" font-family="Liberation Serif" font-weight="bold" text-anchor="middle" dominant-baseline="central">59%</text>
<text transform="translate(625.5,575.5) rotate(30)" font-size="13.8" fill="#f01818" stroke="#f01818" stroke-width="0.35" font-family="Liberation Serif" font-weight="bold" text-anchor="middle" dominant-baseline="central">26%</text>
<text x="481" y="317" font-size="14" fill="#6f2f9f" text-anchor="middle" font-family="Liberation Serif" font-weight="bold" stroke="#6f2f9f" stroke-width="0.4" >86</text>
<text x="581" y="332" font-size="14" fill="#6f2f9f" text-anchor="middle" font-family="Liberation Serif" font-weight="bold" stroke="#6f2f9f" stroke-width="0.4" >210</text>
<text x="662.5" y="315" font-size="14" fill="#6f2f9f" text-anchor="middle" font-family="Liberation Serif" font-weight="bold" stroke="#6f2f9f" stroke-width="0.4" >125</text>
<text x="482.3" y="369" font-size="14" fill="#6f2f9f" text-anchor="middle" font-family="Liberation Serif" font-weight="bold" stroke="#6f2f9f" stroke-width="0.4" >79</text>
<text x="583" y="374" font-size="14" fill="#6f2f9f" text-anchor="middle" font-family="Liberation Serif" font-weight="bold" stroke="#6f2f9f" stroke-width="0.4" >203</text>
<text x="483.5" y="424" font-size="14" fill="#6f2f9f" text-anchor="middle" font-family="Liberation Serif" font-weight="bold" stroke="#6f2f9f" stroke-width="0.4" >76</text>
<text x="583" y="426.5" font-size="14" fill="#6f2f9f" text-anchor="middle" font-family="Liberation Serif" font-weight="bold" stroke="#6f2f9f" stroke-width="0.4" >197</text>
<text x="663" y="420" font-size="14" fill="#6f2f9f" text-anchor="middle" font-family="Liberation Serif" font-weight="bold" stroke="#6f2f9f" stroke-width="0.4" >120</text>
<text x="585" y="473.5" font-size="14" fill="#6f2f9f" text-anchor="middle" font-family="Liberation Serif" font-weight="bold" stroke="#6f2f9f" stroke-width="0.4" >194</text>
<text x="663" y="473.5" font-size="14" fill="#6f2f9f" text-anchor="middle" font-family="Liberation Serif" font-weight="bold" stroke="#6f2f9f" stroke-width="0.4" >119</text>
<text x="486.5" y="506.5" font-size="14" fill="#6f2f9f" text-anchor="middle" font-family="Liberation Serif" font-weight="bold" stroke="#6f2f9f" stroke-width="0.4" >71</text>
<text x="586.3" y="517" font-size="14" fill="#6f2f9f" text-anchor="middle" font-family="Liberation Serif" font-weight="bold" stroke="#6f2f9f" stroke-width="0.4" >186</text>
<text x="665" y="534" font-size="14" fill="#6f2f9f" text-anchor="middle" font-family="Liberation Serif" font-weight="bold" stroke="#6f2f9f" stroke-width="0.4" >116</text>
<text x="486.5" y="565" font-size="14" fill="#6f2f9f" text-anchor="middle" font-family="Liberation Serif" font-weight="bold" stroke="#6f2f9f" stroke-width="0.4" >70</text>
<text x="566" y="564" font-size="14" fill="#6f2f9f" text-anchor="middle" font-family="Liberation Serif" font-weight="bold" stroke="#6f2f9f" stroke-width="0.4" >180</text>
<text x="603.5" y="564" font-size="14" fill="#6f2f9f" text-anchor="middle" font-family="Liberation Serif" font-weight="bold" stroke="#6f2f9f" stroke-width="0.4" >179</text>
<text x="662.5" y="593.5" font-size="14" fill="#6f2f9f" text-anchor="middle" font-family="Liberation Serif" font-weight="bold" stroke="#6f2f9f" stroke-width="0.4" >110</text>
<text x="555" y="551" font-size="17" fill="#6f2f9f" font-family="Liberation Serif" font-weight="bold" text-anchor="middle">*</text><text x="573.5" y="551" font-size="17" fill="#6f2f9f" font-family="Liberation Serif" font-weight="bold" text-anchor="middle">*</text>
<text x="468" y="591.5" font-size="18" fill="#000" text-anchor="start" font-family="Liberation Serif" font-weight="bold" stroke="#000" stroke-width="0.4" >PAl<tspan font-size="12" dy="4">12</tspan></text>
<text x="527" y="600" font-size="17.5" fill="#000" text-anchor="start" font-family="Liberation Serif" font-weight="bold" stroke="#000" stroke-width="0.4" >PAl<tspan font-size="12" dy="4">12</tspan><tspan dy="-4">B(C</tspan><tspan font-size="12" dy="4">6</tspan><tspan dy="-4">F</tspan><tspan font-size="12" dy="4">5</tspan><tspan dy="-4">)</tspan><tspan font-size="12" dy="4">3</tspan></text>
<text x="634" y="615" font-size="18" fill="#000" text-anchor="start" font-family="Liberation Serif" font-weight="bold" stroke="#000" stroke-width="0.4" >B(C<tspan font-size="12.5" dy="4">6</tspan><tspan dy="-4">F</tspan><tspan font-size="12.5" dy="4">5</tspan><tspan dy="-4">)</tspan><tspan font-size="12.5" dy="4">3</tspan></text>
</svg></body></html>
